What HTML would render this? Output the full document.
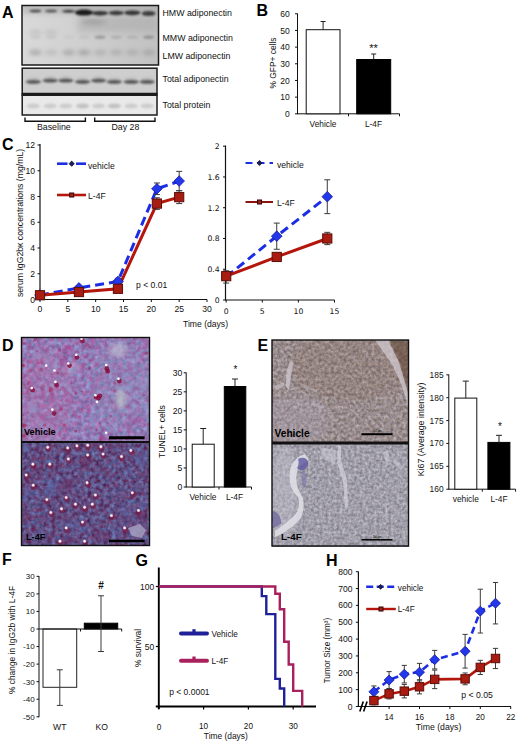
<!DOCTYPE html>
<html><head><meta charset="utf-8"><title>Figure</title>
<style>html,body{margin:0;padding:0;background:#fff}svg{display:block}text{font-family:'Liberation Sans',Arial,sans-serif}</style></head><body>
<svg width="520" height="742" viewBox="0 0 520 742">
<defs>
<filter id="b1" x="-30%" y="-100%" width="160%" height="300%"><feGaussianBlur stdDeviation="1.2"/></filter>
<filter id="b2" x="-30%" y="-100%" width="160%" height="300%"><feGaussianBlur stdDeviation="2"/></filter>
<filter id="b07" x="-30%" y="-100%" width="160%" height="300%"><feGaussianBlur stdDeviation="0.7"/></filter>
<filter id="b3" x="-30%" y="-30%" width="160%" height="160%"><feGaussianBlur stdDeviation="3"/></filter>
<filter id="nD1" x="0" y="0" width="100%" height="100%" color-interpolation-filters="sRGB"><feTurbulence type="fractalNoise" baseFrequency="0.22" numOctaves="3" seed="4"/><feColorMatrix type="matrix" values="0.25 0.3 0 0 0.305  -0.375 0.3 0 0 0.5125  -0.275 0.3 0 0 0.6925  0 0 0 0 1"/></filter>
<filter id="nD2" x="0" y="0" width="100%" height="100%" color-interpolation-filters="sRGB"><feTurbulence type="fractalNoise" baseFrequency="0.25" numOctaves="3" seed="9"/><feColorMatrix type="matrix" values="0.05 0.3 0 0 0.205  -0.45 0.3 0 0 0.385  -0.5 0.3 0 0 0.615  0 0 0 0 1"/></filter>
<filter id="nE1" x="0" y="0" width="100%" height="100%" color-interpolation-filters="sRGB"><feTurbulence type="fractalNoise" baseFrequency="0.32" numOctaves="3" seed="2"/><feColorMatrix type="matrix" values="0 0.42 0 0 0.39  -0.05 0.42 0 0 0.365  -0.14 0.42 0 0 0.415  0 0 0 0 1"/></filter>
<filter id="nE2" x="0" y="0" width="100%" height="100%" color-interpolation-filters="sRGB"><feTurbulence type="fractalNoise" baseFrequency="0.35" numOctaves="3" seed="5"/><feColorMatrix type="matrix" values="0 0.4 0 0 0.43  0 0.4 0 0 0.42  -0.06 0.4 0 0 0.495  0 0 0 0 1"/></filter>
<clipPath id="cD1"><rect x="21.5" y="337.5" width="128" height="105"/></clipPath>
<clipPath id="cD2"><rect x="21.5" y="442" width="128" height="103.5"/></clipPath>
<clipPath id="cE1"><rect x="272" y="340" width="136.5" height="102"/></clipPath>
<clipPath id="cE2"><rect x="272" y="443" width="136.5" height="103.5"/></clipPath>
<clipPath id="cA1"><rect x="22" y="5.5" width="136.5" height="59.5"/></clipPath>
<clipPath id="cA2"><rect x="22.2" y="68.2" width="134.8" height="25.3"/></clipPath>
<clipPath id="cA3"><rect x="22.2" y="95.2" width="134.8" height="19.8"/></clipPath>
</defs>
<rect width="520" height="742" fill="#fff"/>

<text x="2.00" y="17.50" font-size="16" text-anchor="start" font-weight="bold" fill="#000" >A</text>
<linearGradient id="gA1" x1="0" y1="0" x2="1" y2="0"><stop offset="0" stop-color="#d9d9d9"/><stop offset="0.45" stop-color="#cfcfcf"/><stop offset="1" stop-color="#c1c1c1"/></linearGradient>
<rect x="22.00" y="5.50" width="136.50" height="59.50" fill="url(#gA1)" stroke="none" stroke-width="1" />
<g clip-path="url(#cA1)">
<rect x="22.00" y="3.00" width="137.50" height="11.00" fill="#a8a8a8" stroke="none" stroke-width="1" filter="url(#b2)" opacity="0.55"/>
<rect x="78.00" y="16.00" width="80.00" height="16.00" fill="#b0b0b0" stroke="none" stroke-width="1" filter="url(#b3)" opacity="0.7"/>
<ellipse cx="35.4" cy="11" rx="6" ry="1.3" fill="#1e1e1e" opacity="0.75" filter="url(#b1)"/>
<ellipse cx="51.1" cy="11" rx="6" ry="1.3" fill="#1e1e1e" opacity="0.7" filter="url(#b1)"/>
<ellipse cx="68.6" cy="11.3" rx="6.5" ry="1.5" fill="#1e1e1e" opacity="0.8" filter="url(#b1)"/>
<ellipse cx="84" cy="12.6" rx="9.2" ry="3.0" fill="#1e1e1e" opacity="1" filter="url(#b1)"/>
<ellipse cx="100" cy="13.2" rx="8" ry="2.3" fill="#1e1e1e" opacity="0.85" filter="url(#b1)"/>
<ellipse cx="116.3" cy="13" rx="7.8" ry="2.2" fill="#1e1e1e" opacity="0.82" filter="url(#b1)"/>
<ellipse cx="132.3" cy="12.8" rx="8" ry="2.4" fill="#1e1e1e" opacity="0.85" filter="url(#b1)"/>
<ellipse cx="148.6" cy="13.5" rx="7" ry="2.6" fill="#1e1e1e" opacity="0.8" filter="url(#b1)"/>
<ellipse cx="94" cy="22" rx="12" ry="2.5" fill="#666" opacity="0.28" filter="url(#b2)"/>
<ellipse cx="35.4" cy="37.3" rx="5.5" ry="1.7" fill="#444" opacity="0.08" filter="url(#b1)"/>
<ellipse cx="51.1" cy="37.3" rx="5.5" ry="1.7" fill="#444" opacity="0.08" filter="url(#b1)"/>
<ellipse cx="68.6" cy="37.3" rx="5.5" ry="1.7" fill="#444" opacity="0.05" filter="url(#b1)"/>
<ellipse cx="84" cy="37.3" rx="5.5" ry="1.7" fill="#444" opacity="0.08" filter="url(#b1)"/>
<ellipse cx="100" cy="37.3" rx="5.5" ry="1.7" fill="#444" opacity="0.34" filter="url(#b1)"/>
<ellipse cx="116.3" cy="37.3" rx="5.5" ry="1.7" fill="#444" opacity="0.18" filter="url(#b1)"/>
<ellipse cx="132.3" cy="37.3" rx="5.5" ry="1.7" fill="#444" opacity="0.14" filter="url(#b1)"/>
<ellipse cx="148.6" cy="37.3" rx="5.5" ry="1.7" fill="#444" opacity="0.36" filter="url(#b1)"/>
<ellipse cx="35.4" cy="32.5" rx="6.5" ry="2.6" fill="#777" opacity="0.2" filter="url(#b2)"/>
<ellipse cx="51.1" cy="32.5" rx="6.5" ry="2.6" fill="#777" opacity="0.2" filter="url(#b2)"/>
<ellipse cx="35.4" cy="52.5" rx="6.5" ry="2.8" fill="#666" opacity="0.38" filter="url(#b2)"/>
<ellipse cx="51.1" cy="52.5" rx="6.5" ry="2.8" fill="#666" opacity="0.2" filter="url(#b2)"/>
<ellipse cx="68.6" cy="52.5" rx="6.5" ry="2.8" fill="#666" opacity="0.36" filter="url(#b2)"/>
<ellipse cx="84" cy="52.5" rx="6.5" ry="2.8" fill="#666" opacity="0.38" filter="url(#b2)"/>
<ellipse cx="100" cy="52.5" rx="6.5" ry="2.8" fill="#666" opacity="0.25" filter="url(#b2)"/>
<ellipse cx="116.3" cy="52.5" rx="6.5" ry="2.8" fill="#666" opacity="0.25" filter="url(#b2)"/>
<ellipse cx="132.3" cy="52.5" rx="6.5" ry="2.8" fill="#666" opacity="0.25" filter="url(#b2)"/>
<ellipse cx="148.6" cy="52.5" rx="6.5" ry="2.8" fill="#666" opacity="0.28" filter="url(#b2)"/>
</g>
<rect x="22.00" y="5.50" width="136.50" height="59.50" fill="none" stroke="#1a1a1a" stroke-width="1.5" />
<rect x="22.20" y="68.20" width="134.80" height="25.30" fill="#cecece" stroke="none" stroke-width="1" />
<g clip-path="url(#cA2)">
<ellipse cx="33.4" cy="78.8" rx="6" ry="1.5" fill="#999" opacity="0.35" filter="url(#b1)"/>
<ellipse cx="33.4" cy="81.8" rx="7.6" ry="1.9" fill="#363636" opacity="0.8" filter="url(#b1)"/>
<ellipse cx="50.3" cy="77.6" rx="6" ry="1.5" fill="#999" opacity="0.35" filter="url(#b1)"/>
<ellipse cx="50.3" cy="80.6" rx="7.6" ry="1.9" fill="#363636" opacity="0.8" filter="url(#b1)"/>
<ellipse cx="65.8" cy="77.6" rx="6" ry="1.5" fill="#999" opacity="0.35" filter="url(#b1)"/>
<ellipse cx="65.8" cy="80.6" rx="7.6" ry="1.9" fill="#363636" opacity="0.8" filter="url(#b1)"/>
<ellipse cx="82.6" cy="78.8" rx="6" ry="1.5" fill="#999" opacity="0.35" filter="url(#b1)"/>
<ellipse cx="82.6" cy="81.8" rx="7.6" ry="1.9" fill="#363636" opacity="0.8" filter="url(#b1)"/>
<ellipse cx="98.6" cy="77.6" rx="6" ry="1.5" fill="#999" opacity="0.35" filter="url(#b1)"/>
<ellipse cx="98.6" cy="80.6" rx="7.6" ry="1.9" fill="#363636" opacity="0.8" filter="url(#b1)"/>
<ellipse cx="114.3" cy="78.8" rx="6" ry="1.5" fill="#999" opacity="0.35" filter="url(#b1)"/>
<ellipse cx="114.3" cy="81.8" rx="7.6" ry="1.9" fill="#363636" opacity="0.8" filter="url(#b1)"/>
<ellipse cx="131.2" cy="78.8" rx="6" ry="1.5" fill="#999" opacity="0.35" filter="url(#b1)"/>
<ellipse cx="131.2" cy="81.8" rx="7.6" ry="1.9" fill="#363636" opacity="0.8" filter="url(#b1)"/>
<ellipse cx="147.2" cy="78.8" rx="6" ry="1.5" fill="#999" opacity="0.35" filter="url(#b1)"/>
<ellipse cx="147.2" cy="81.8" rx="7.6" ry="1.9" fill="#363636" opacity="0.8" filter="url(#b1)"/>
</g>
<rect x="22.20" y="68.20" width="134.80" height="25.30" fill="none" stroke="#1a1a1a" stroke-width="1.5" />
<rect x="22.20" y="95.20" width="134.80" height="19.80" fill="#e9e9e9" stroke="none" stroke-width="1" />
<g clip-path="url(#cA3)">
<ellipse cx="33.4" cy="106" rx="6.5" ry="2.6" fill="#8a8a8a" opacity="0.3" filter="url(#b1)"/>
<ellipse cx="50.3" cy="106" rx="6.5" ry="2.6" fill="#8a8a8a" opacity="0.3" filter="url(#b1)"/>
<ellipse cx="65.8" cy="106" rx="6.5" ry="2.6" fill="#8a8a8a" opacity="0.3" filter="url(#b1)"/>
<ellipse cx="82.6" cy="106" rx="6.5" ry="2.6" fill="#8a8a8a" opacity="0.42" filter="url(#b1)"/>
<ellipse cx="98.6" cy="106" rx="6.5" ry="2.6" fill="#8a8a8a" opacity="0.3" filter="url(#b1)"/>
<ellipse cx="114.3" cy="106" rx="6.5" ry="2.6" fill="#8a8a8a" opacity="0.42" filter="url(#b1)"/>
<ellipse cx="131.2" cy="106" rx="6.5" ry="2.6" fill="#8a8a8a" opacity="0.3" filter="url(#b1)"/>
<ellipse cx="147.2" cy="106" rx="6.5" ry="2.6" fill="#8a8a8a" opacity="0.3" filter="url(#b1)"/>
</g>
<rect x="22.20" y="95.20" width="134.80" height="19.80" fill="none" stroke="#1a1a1a" stroke-width="1.5" />
<line x1="21.50" y1="94.40" x2="157.70" y2="94.40" stroke="#1a1a1a" stroke-width="2.8" />
<path d="M25,117.5 V121.3 H85.4 V117.5" fill="none" stroke="#111" stroke-width="1.4"/>
<path d="M94.7,117.5 V121.3 H155 V117.5" fill="none" stroke="#111" stroke-width="1.4"/>
<text x="53.80" y="130.00" font-size="8.8" text-anchor="middle"  fill="#111" >Baseline</text>
<text x="125.40" y="130.00" font-size="8.8" text-anchor="middle"  fill="#111" >Day 28</text>
<text x="162.50" y="15.80" font-size="8.8" text-anchor="start"  fill="#111" >HMW adiponectin</text>
<text x="162.50" y="41.00" font-size="8.8" text-anchor="start"  fill="#111" >MMW adiponectin</text>
<text x="162.50" y="58.50" font-size="8.8" text-anchor="start"  fill="#111" >LMW adiponectin</text>
<text x="162.50" y="82.00" font-size="8.8" text-anchor="start"  fill="#111" >Total adiponectin</text>
<text x="162.50" y="108.00" font-size="8.8" text-anchor="start"  fill="#111" >Total protein</text>
<text x="256.50" y="15.50" font-size="16" text-anchor="start" font-weight="bold" fill="#000" >B</text>
<line x1="297.50" y1="13.50" x2="297.50" y2="114.30" stroke="#111" stroke-width="1" />
<line x1="297.50" y1="113.80" x2="399.50" y2="113.80" stroke="#111" stroke-width="1" />
<line x1="295.00" y1="113.80" x2="297.50" y2="113.80" stroke="#111" stroke-width="1" />
<text x="289.80" y="116.90" font-size="8.5" text-anchor="end"  fill="#111" >0</text>
<line x1="295.00" y1="97.13" x2="297.50" y2="97.13" stroke="#111" stroke-width="1" />
<text x="289.80" y="100.23" font-size="8.5" text-anchor="end"  fill="#111" >10</text>
<line x1="295.00" y1="80.46" x2="297.50" y2="80.46" stroke="#111" stroke-width="1" />
<text x="289.80" y="83.56" font-size="8.5" text-anchor="end"  fill="#111" >20</text>
<line x1="295.00" y1="63.79" x2="297.50" y2="63.79" stroke="#111" stroke-width="1" />
<text x="289.80" y="66.89" font-size="8.5" text-anchor="end"  fill="#111" >30</text>
<line x1="295.00" y1="47.12" x2="297.50" y2="47.12" stroke="#111" stroke-width="1" />
<text x="289.80" y="50.22" font-size="8.5" text-anchor="end"  fill="#111" >40</text>
<line x1="295.00" y1="30.45" x2="297.50" y2="30.45" stroke="#111" stroke-width="1" />
<text x="289.80" y="33.55" font-size="8.5" text-anchor="end"  fill="#111" >50</text>
<line x1="295.00" y1="13.78" x2="297.50" y2="13.78" stroke="#111" stroke-width="1" />
<text x="289.80" y="16.88" font-size="8.5" text-anchor="end"  fill="#111" >60</text>
<line x1="348.50" y1="113.80" x2="348.50" y2="116.30" stroke="#111" stroke-width="1" />
<line x1="399.50" y1="113.80" x2="399.50" y2="116.30" stroke="#111" stroke-width="1" />
<rect x="306.20" y="29.70" width="33.80" height="84.10" fill="#fff" stroke="#111" stroke-width="1" />
<line x1="323.10" y1="21.50" x2="323.10" y2="29.70" stroke="#222" stroke-width="1" />
<line x1="320.60" y1="21.50" x2="325.60" y2="21.50" stroke="#222" stroke-width="1" />
<rect x="356.70" y="59.50" width="34.00" height="54.30" fill="#000" stroke="#000" stroke-width="1" />
<line x1="373.70" y1="54.00" x2="373.70" y2="59.50" stroke="#222" stroke-width="1" />
<line x1="371.20" y1="54.00" x2="376.20" y2="54.00" stroke="#222" stroke-width="1" />
<text x="373.50" y="52.00" font-size="11" text-anchor="middle"  fill="#111" >**</text>
<text x="323.00" y="127.00" font-size="8.3" text-anchor="middle"  fill="#111" >Vehicle</text>
<text x="373.50" y="127.00" font-size="8.3" text-anchor="middle"  fill="#111" >L-4F</text>
<text transform="translate(275.50,63.00) rotate(-90)" font-size="8.4" text-anchor="middle" fill="#111">% GFP+ cells</text>
<text x="2.00" y="149.50" font-size="16" text-anchor="start" font-weight="bold" fill="#000" >C</text>
<line x1="40.00" y1="144.00" x2="40.00" y2="300.00" stroke="#111" stroke-width="1.2" />
<line x1="40.00" y1="299.50" x2="207.00" y2="299.50" stroke="#111" stroke-width="1.2" />
<line x1="37.50" y1="299.50" x2="40.00" y2="299.50" stroke="#111" stroke-width="1" />
<text x="35.00" y="302.50" font-size="8.6" text-anchor="end"  fill="#111" >0</text>
<line x1="37.50" y1="273.75" x2="40.00" y2="273.75" stroke="#111" stroke-width="1" />
<text x="35.00" y="276.75" font-size="8.6" text-anchor="end"  fill="#111" >2</text>
<line x1="37.50" y1="248.00" x2="40.00" y2="248.00" stroke="#111" stroke-width="1" />
<text x="35.00" y="251.00" font-size="8.6" text-anchor="end"  fill="#111" >4</text>
<line x1="37.50" y1="222.25" x2="40.00" y2="222.25" stroke="#111" stroke-width="1" />
<text x="35.00" y="225.25" font-size="8.6" text-anchor="end"  fill="#111" >6</text>
<line x1="37.50" y1="196.50" x2="40.00" y2="196.50" stroke="#111" stroke-width="1" />
<text x="35.00" y="199.50" font-size="8.6" text-anchor="end"  fill="#111" >8</text>
<line x1="37.50" y1="170.75" x2="40.00" y2="170.75" stroke="#111" stroke-width="1" />
<text x="35.00" y="173.75" font-size="8.6" text-anchor="end"  fill="#111" >10</text>
<line x1="37.50" y1="145.00" x2="40.00" y2="145.00" stroke="#111" stroke-width="1" />
<text x="35.00" y="148.00" font-size="8.6" text-anchor="end"  fill="#111" >12</text>
<line x1="40.00" y1="299.50" x2="40.00" y2="302.00" stroke="#111" stroke-width="1" />
<text x="40.00" y="312.00" font-size="8.6" text-anchor="middle"  fill="#111" >0</text>
<line x1="67.84" y1="299.50" x2="67.84" y2="302.00" stroke="#111" stroke-width="1" />
<text x="67.84" y="312.00" font-size="8.6" text-anchor="middle"  fill="#111" >5</text>
<line x1="95.67" y1="299.50" x2="95.67" y2="302.00" stroke="#111" stroke-width="1" />
<text x="95.67" y="312.00" font-size="8.6" text-anchor="middle"  fill="#111" >10</text>
<line x1="123.50" y1="299.50" x2="123.50" y2="302.00" stroke="#111" stroke-width="1" />
<text x="123.50" y="312.00" font-size="8.6" text-anchor="middle"  fill="#111" >15</text>
<line x1="151.34" y1="299.50" x2="151.34" y2="302.00" stroke="#111" stroke-width="1" />
<text x="151.34" y="312.00" font-size="8.6" text-anchor="middle"  fill="#111" >20</text>
<line x1="179.18" y1="299.50" x2="179.18" y2="302.00" stroke="#111" stroke-width="1" />
<text x="179.18" y="312.00" font-size="8.6" text-anchor="middle"  fill="#111" >25</text>
<line x1="207.01" y1="299.50" x2="207.01" y2="302.00" stroke="#111" stroke-width="1" />
<text x="207.01" y="312.00" font-size="8.6" text-anchor="middle"  fill="#111" >30</text>
<text transform="translate(23.00,223.00) rotate(-90)" font-size="8.7" text-anchor="middle" fill="#111">serum IgG2bκ concentrations (mg/mL)</text>
<polyline fill="none" stroke="#1c2ee4" stroke-width="3" stroke-dasharray="9,5" points="40.0,295.0 79.0,287.9 117.9,281.5 156.9,188.8 179.2,181.1"/>
<polyline fill="none" stroke="#b4160c" stroke-width="3" points="40.0,295.3 79.0,292.0 117.9,288.8 156.9,203.6 179.2,197.1"/>
<line x1="40.00" y1="293.71" x2="40.00" y2="296.28" stroke="#3a3a3a" stroke-width="1" />
<line x1="37.00" y1="293.71" x2="43.00" y2="293.71" stroke="#3a3a3a" stroke-width="1" />
<line x1="37.00" y1="296.28" x2="43.00" y2="296.28" stroke="#3a3a3a" stroke-width="1" />
<path d="M40.00,289.69 L45.30,294.99 L40.00,300.29 L34.70,294.99Z" fill="#2238ea" stroke="#181890" stroke-width="0.8"/>
<line x1="78.97" y1="285.98" x2="78.97" y2="289.84" stroke="#3a3a3a" stroke-width="1" />
<line x1="75.97" y1="285.98" x2="81.97" y2="285.98" stroke="#3a3a3a" stroke-width="1" />
<line x1="75.97" y1="289.84" x2="81.97" y2="289.84" stroke="#3a3a3a" stroke-width="1" />
<path d="M78.97,282.61 L84.27,287.91 L78.97,293.21 L73.67,287.91Z" fill="#2238ea" stroke="#181890" stroke-width="0.8"/>
<line x1="117.94" y1="278.26" x2="117.94" y2="284.69" stroke="#3a3a3a" stroke-width="1" />
<line x1="114.94" y1="278.26" x2="120.94" y2="278.26" stroke="#3a3a3a" stroke-width="1" />
<line x1="114.94" y1="284.69" x2="120.94" y2="284.69" stroke="#3a3a3a" stroke-width="1" />
<path d="M117.94,276.18 L123.24,281.48 L117.94,286.78 L112.64,281.48Z" fill="#2238ea" stroke="#181890" stroke-width="0.8"/>
<line x1="156.91" y1="182.98" x2="156.91" y2="194.57" stroke="#3a3a3a" stroke-width="1" />
<line x1="153.91" y1="182.98" x2="159.91" y2="182.98" stroke="#3a3a3a" stroke-width="1" />
<line x1="153.91" y1="194.57" x2="159.91" y2="194.57" stroke="#3a3a3a" stroke-width="1" />
<path d="M156.91,183.47 L162.21,188.78 L156.91,194.08 L151.61,188.78Z" fill="#2238ea" stroke="#181890" stroke-width="0.8"/>
<line x1="179.18" y1="171.39" x2="179.18" y2="190.71" stroke="#3a3a3a" stroke-width="1" />
<line x1="176.18" y1="171.39" x2="182.18" y2="171.39" stroke="#3a3a3a" stroke-width="1" />
<line x1="176.18" y1="190.71" x2="182.18" y2="190.71" stroke="#3a3a3a" stroke-width="1" />
<path d="M179.18,175.75 L184.48,181.05 L179.18,186.35 L173.88,181.05Z" fill="#2238ea" stroke="#181890" stroke-width="0.8"/>
<line x1="40.00" y1="293.96" x2="40.00" y2="296.54" stroke="#3a3a3a" stroke-width="1" />
<line x1="37.00" y1="293.96" x2="43.00" y2="293.96" stroke="#3a3a3a" stroke-width="1" />
<line x1="37.00" y1="296.54" x2="43.00" y2="296.54" stroke="#3a3a3a" stroke-width="1" />
<rect x="35.40" y="290.65" width="9.20" height="9.20" fill="#a81c12" stroke="#5a0f0a" stroke-width="1" />
<line x1="78.97" y1="290.75" x2="78.97" y2="293.32" stroke="#3a3a3a" stroke-width="1" />
<line x1="75.97" y1="290.75" x2="81.97" y2="290.75" stroke="#3a3a3a" stroke-width="1" />
<line x1="75.97" y1="293.32" x2="81.97" y2="293.32" stroke="#3a3a3a" stroke-width="1" />
<rect x="74.37" y="287.43" width="9.20" height="9.20" fill="#a81c12" stroke="#5a0f0a" stroke-width="1" />
<line x1="117.94" y1="286.88" x2="117.94" y2="290.75" stroke="#3a3a3a" stroke-width="1" />
<line x1="114.94" y1="286.88" x2="120.94" y2="286.88" stroke="#3a3a3a" stroke-width="1" />
<line x1="114.94" y1="290.75" x2="120.94" y2="290.75" stroke="#3a3a3a" stroke-width="1" />
<rect x="113.34" y="284.21" width="9.20" height="9.20" fill="#a81c12" stroke="#5a0f0a" stroke-width="1" />
<line x1="156.91" y1="197.79" x2="156.91" y2="209.38" stroke="#3a3a3a" stroke-width="1" />
<line x1="153.91" y1="197.79" x2="159.91" y2="197.79" stroke="#3a3a3a" stroke-width="1" />
<line x1="153.91" y1="209.38" x2="159.91" y2="209.38" stroke="#3a3a3a" stroke-width="1" />
<rect x="152.31" y="198.98" width="9.20" height="9.20" fill="#a81c12" stroke="#5a0f0a" stroke-width="1" />
<line x1="179.18" y1="190.71" x2="179.18" y2="203.58" stroke="#3a3a3a" stroke-width="1" />
<line x1="176.18" y1="190.71" x2="182.18" y2="190.71" stroke="#3a3a3a" stroke-width="1" />
<line x1="176.18" y1="203.58" x2="182.18" y2="203.58" stroke="#3a3a3a" stroke-width="1" />
<rect x="174.58" y="192.54" width="9.20" height="9.20" fill="#a81c12" stroke="#5a0f0a" stroke-width="1" />
<line x1="57.00" y1="163.70" x2="67.50" y2="163.70" stroke="#1c2ee4" stroke-width="2.6" />
<line x1="76.00" y1="163.70" x2="86.00" y2="163.70" stroke="#1c2ee4" stroke-width="2.6" />
<path d="M71.70,161.10 L74.30,163.70 L71.70,166.30 L69.10,163.70Z" fill="#1a1a70" stroke="#111" stroke-width="0.8"/>
<text x="88.00" y="168.50" font-size="8.6" text-anchor="start"  fill="#111" >vehicle</text>
<line x1="57.00" y1="195.00" x2="86.00" y2="195.00" stroke="#b4160c" stroke-width="2.6" />
<rect x="69.70" y="193.00" width="4.00" height="4.00" fill="#a3231a" stroke="#300" stroke-width="1" />
<text x="88.00" y="198.70" font-size="8.6" text-anchor="start"  fill="#111" >L-4F</text>
<text x="136.00" y="287.50" font-size="8.6" text-anchor="start"  fill="#111" >p &lt; 0.01</text>
<text x="205.50" y="327.00" font-size="8.6" text-anchor="middle"  fill="#111" >Time (days)</text>
<line x1="225.50" y1="145.50" x2="225.50" y2="300.50" stroke="#111" stroke-width="1.2" />
<line x1="225.50" y1="300.00" x2="334.50" y2="300.00" stroke="#111" stroke-width="1.2" />
<line x1="223.00" y1="300.00" x2="225.50" y2="300.00" stroke="#111" stroke-width="1" />
<text x="219.70" y="302.90" font-size="7.7" text-anchor="end"  fill="#111" style="font-family:'DejaVu Sans',sans-serif">0</text>
<line x1="223.00" y1="269.24" x2="225.50" y2="269.24" stroke="#111" stroke-width="1" />
<text x="219.70" y="272.14" font-size="7.7" text-anchor="end"  fill="#111" style="font-family:'DejaVu Sans',sans-serif">0.4</text>
<line x1="223.00" y1="238.48" x2="225.50" y2="238.48" stroke="#111" stroke-width="1" />
<text x="219.70" y="241.38" font-size="7.7" text-anchor="end"  fill="#111" style="font-family:'DejaVu Sans',sans-serif">0.8</text>
<line x1="223.00" y1="207.72" x2="225.50" y2="207.72" stroke="#111" stroke-width="1" />
<text x="219.70" y="210.62" font-size="7.7" text-anchor="end"  fill="#111" style="font-family:'DejaVu Sans',sans-serif">1.2</text>
<line x1="223.00" y1="176.96" x2="225.50" y2="176.96" stroke="#111" stroke-width="1" />
<text x="219.70" y="179.86" font-size="7.7" text-anchor="end"  fill="#111" style="font-family:'DejaVu Sans',sans-serif">1.6</text>
<line x1="223.00" y1="146.20" x2="225.50" y2="146.20" stroke="#111" stroke-width="1" />
<text x="219.70" y="149.10" font-size="7.7" text-anchor="end"  fill="#111" style="font-family:'DejaVu Sans',sans-serif">2</text>
<line x1="226.20" y1="300.00" x2="226.20" y2="302.50" stroke="#111" stroke-width="1" />
<text x="226.20" y="314.30" font-size="7.7" text-anchor="middle"  fill="#111" style="font-family:'DejaVu Sans',sans-serif">0</text>
<line x1="262.30" y1="300.00" x2="262.30" y2="302.50" stroke="#111" stroke-width="1" />
<text x="262.30" y="314.30" font-size="7.7" text-anchor="middle"  fill="#111" style="font-family:'DejaVu Sans',sans-serif">5</text>
<line x1="298.40" y1="300.00" x2="298.40" y2="302.50" stroke="#111" stroke-width="1" />
<text x="298.40" y="314.30" font-size="7.7" text-anchor="middle"  fill="#111" style="font-family:'DejaVu Sans',sans-serif">10</text>
<line x1="334.50" y1="300.00" x2="334.50" y2="302.50" stroke="#111" stroke-width="1" />
<text x="334.50" y="314.30" font-size="7.7" text-anchor="middle"  fill="#111" style="font-family:'DejaVu Sans',sans-serif">15</text>
<polyline fill="none" stroke="#1c2ee4" stroke-width="3" stroke-dasharray="9,5" points="226.2,276.9 276.7,236.2 327.3,196.7"/>
<polyline fill="none" stroke="#b4160c" stroke-width="3" points="226.2,276.2 276.7,256.9 327.3,238.5"/>
<line x1="226.20" y1="270.78" x2="226.20" y2="283.08" stroke="#3a3a3a" stroke-width="1" />
<line x1="223.20" y1="270.78" x2="229.20" y2="270.78" stroke="#3a3a3a" stroke-width="1" />
<line x1="223.20" y1="283.08" x2="229.20" y2="283.08" stroke="#3a3a3a" stroke-width="1" />
<line x1="276.74" y1="223.10" x2="276.74" y2="249.25" stroke="#3a3a3a" stroke-width="1" />
<line x1="273.74" y1="223.10" x2="279.74" y2="223.10" stroke="#3a3a3a" stroke-width="1" />
<line x1="273.74" y1="249.25" x2="279.74" y2="249.25" stroke="#3a3a3a" stroke-width="1" />
<path d="M276.74,230.87 L282.04,236.17 L276.74,241.47 L271.44,236.17Z" fill="#2238ea" stroke="#181890" stroke-width="0.8"/>
<line x1="327.28" y1="179.81" x2="327.28" y2="213.64" stroke="#3a3a3a" stroke-width="1" />
<line x1="324.28" y1="179.81" x2="330.28" y2="179.81" stroke="#3a3a3a" stroke-width="1" />
<line x1="324.28" y1="213.64" x2="330.28" y2="213.64" stroke="#3a3a3a" stroke-width="1" />
<path d="M327.28,191.42 L332.58,196.72 L327.28,202.02 L321.98,196.72Z" fill="#2238ea" stroke="#181890" stroke-width="0.8"/>
<line x1="226.20" y1="272.32" x2="226.20" y2="280.01" stroke="#3a3a3a" stroke-width="1" />
<line x1="223.20" y1="272.32" x2="229.20" y2="272.32" stroke="#3a3a3a" stroke-width="1" />
<line x1="223.20" y1="280.01" x2="229.20" y2="280.01" stroke="#3a3a3a" stroke-width="1" />
<rect x="221.60" y="271.56" width="9.20" height="9.20" fill="#a81c12" stroke="#5a0f0a" stroke-width="1" />
<line x1="276.74" y1="253.09" x2="276.74" y2="260.78" stroke="#3a3a3a" stroke-width="1" />
<line x1="273.74" y1="253.09" x2="279.74" y2="253.09" stroke="#3a3a3a" stroke-width="1" />
<line x1="273.74" y1="260.78" x2="279.74" y2="260.78" stroke="#3a3a3a" stroke-width="1" />
<rect x="272.14" y="252.34" width="9.20" height="9.20" fill="#a81c12" stroke="#5a0f0a" stroke-width="1" />
<line x1="327.28" y1="232.33" x2="327.28" y2="244.63" stroke="#3a3a3a" stroke-width="1" />
<line x1="324.28" y1="232.33" x2="330.28" y2="232.33" stroke="#3a3a3a" stroke-width="1" />
<line x1="324.28" y1="244.63" x2="330.28" y2="244.63" stroke="#3a3a3a" stroke-width="1" />
<rect x="322.68" y="233.88" width="9.20" height="9.20" fill="#a81c12" stroke="#5a0f0a" stroke-width="1" />
<line x1="245.50" y1="163.00" x2="273.00" y2="163.00" stroke="#1c2ee4" stroke-width="1.8" stroke-dasharray="7,5"/>
<path d="M259.50,160.40 L262.10,163.00 L259.50,165.60 L256.90,163.00Z" fill="#1a1a70" stroke="#111" stroke-width="0.8"/>
<text x="277.00" y="167.50" font-size="8.6" text-anchor="start"  fill="#111" >vehicle</text>
<line x1="245.50" y1="202.00" x2="273.00" y2="202.00" stroke="#8a1410" stroke-width="2" />
<rect x="257.50" y="200.00" width="4.00" height="4.00" fill="#a3231a" stroke="#300" stroke-width="1" />
<text x="277.00" y="206.00" font-size="8.6" text-anchor="start"  fill="#111" >L-4F</text>
<text x="2.00" y="350.50" font-size="16" text-anchor="start" font-weight="bold" fill="#000" >D</text>
<rect x="21.50" y="337.50" width="128.00" height="105.00" fill="#a58fbd" stroke="none" stroke-width="1" filter="url(#nD1)"/>
<g clip-path="url(#cD1)">
<circle cx="63.0" cy="353.3" r="4.3" fill="#a04090" opacity="0.14" filter="url(#b1)"/>
<circle cx="90.1" cy="375.9" r="2.2" fill="#a04090" opacity="0.23" filter="url(#b1)"/>
<circle cx="26.3" cy="383.0" r="2.2" fill="#a04090" opacity="0.14" filter="url(#b1)"/>
<circle cx="75.8" cy="424.3" r="2.4" fill="#a04090" opacity="0.17" filter="url(#b1)"/>
<circle cx="101.8" cy="437.0" r="4.0" fill="#a04090" opacity="0.21" filter="url(#b1)"/>
<circle cx="146.5" cy="342.4" r="5.0" fill="#a04090" opacity="0.18" filter="url(#b1)"/>
<circle cx="40.0" cy="349.9" r="3.1" fill="#a04090" opacity="0.30" filter="url(#b1)"/>
<circle cx="44.6" cy="398.6" r="4.2" fill="#a04090" opacity="0.20" filter="url(#b1)"/>
<circle cx="91.6" cy="344.1" r="2.2" fill="#a04090" opacity="0.17" filter="url(#b1)"/>
<circle cx="108.6" cy="382.4" r="3.1" fill="#a04090" opacity="0.25" filter="url(#b1)"/>
<circle cx="79.5" cy="369.0" r="4.8" fill="#a04090" opacity="0.27" filter="url(#b1)"/>
<circle cx="52.7" cy="397.8" r="3.8" fill="#a04090" opacity="0.31" filter="url(#b1)"/>
<circle cx="114.9" cy="367.7" r="5.4" fill="#a04090" opacity="0.15" filter="url(#b1)"/>
<circle cx="75.0" cy="417.0" r="2.5" fill="#a04090" opacity="0.23" filter="url(#b1)"/>
<circle cx="26.5" cy="407.7" r="4.7" fill="#a04090" opacity="0.25" filter="url(#b1)"/>
<circle cx="133.6" cy="370.4" r="4.4" fill="#a04090" opacity="0.25" filter="url(#b1)"/>
<circle cx="95.7" cy="385.4" r="4.9" fill="#a04090" opacity="0.33" filter="url(#b1)"/>
<circle cx="82.2" cy="407.2" r="2.2" fill="#a04090" opacity="0.27" filter="url(#b1)"/>
<circle cx="104.3" cy="441.8" r="4.9" fill="#a04090" opacity="0.18" filter="url(#b1)"/>
<circle cx="70.9" cy="407.7" r="2.1" fill="#a04090" opacity="0.22" filter="url(#b1)"/>
<circle cx="43.0" cy="349.8" r="2.2" fill="#a04090" opacity="0.29" filter="url(#b1)"/>
<circle cx="38.1" cy="363.5" r="3.4" fill="#a04090" opacity="0.31" filter="url(#b1)"/>
<circle cx="31.8" cy="384.7" r="3.9" fill="#a04090" opacity="0.31" filter="url(#b1)"/>
<circle cx="126.4" cy="428.2" r="3.0" fill="#a04090" opacity="0.21" filter="url(#b1)"/>
<circle cx="67.4" cy="430.3" r="5.4" fill="#a04090" opacity="0.15" filter="url(#b1)"/>
<circle cx="44.1" cy="361.9" r="2.8" fill="#a04090" opacity="0.23" filter="url(#b1)"/>
<circle cx="96.9" cy="365.1" r="2.0" fill="#a04090" opacity="0.21" filter="url(#b1)"/>
<circle cx="68.8" cy="397.0" r="5.3" fill="#a04090" opacity="0.27" filter="url(#b1)"/>
<circle cx="87.5" cy="402.3" r="4.4" fill="#a04090" opacity="0.13" filter="url(#b1)"/>
<circle cx="136.6" cy="419.4" r="5.1" fill="#a04090" opacity="0.30" filter="url(#b1)"/>
<circle cx="71.7" cy="379.4" r="2.4" fill="#a04090" opacity="0.26" filter="url(#b1)"/>
<circle cx="29.5" cy="344.6" r="2.7" fill="#a04090" opacity="0.16" filter="url(#b1)"/>
<circle cx="65.0" cy="343.0" r="2.0" fill="#a04090" opacity="0.15" filter="url(#b1)"/>
<circle cx="34.5" cy="375.7" r="2.1" fill="#a04090" opacity="0.31" filter="url(#b1)"/>
<circle cx="100.1" cy="353.1" r="2.9" fill="#a04090" opacity="0.20" filter="url(#b1)"/>
<circle cx="68.1" cy="350.4" r="5.0" fill="#a04090" opacity="0.34" filter="url(#b1)"/>
<circle cx="81.1" cy="388.3" r="2.3" fill="#a04090" opacity="0.14" filter="url(#b1)"/>
<circle cx="65.4" cy="365.3" r="4.9" fill="#a04090" opacity="0.16" filter="url(#b1)"/>
<circle cx="24.5" cy="437.4" r="3.8" fill="#a04090" opacity="0.15" filter="url(#b1)"/>
<circle cx="91.0" cy="340.3" r="3.8" fill="#a04090" opacity="0.34" filter="url(#b1)"/>
<circle cx="132.0" cy="410.6" r="2.9" fill="#a04090" opacity="0.20" filter="url(#b1)"/>
<circle cx="42.9" cy="418.6" r="3.9" fill="#a04090" opacity="0.29" filter="url(#b1)"/>
<circle cx="63.7" cy="360.9" r="4.8" fill="#a04090" opacity="0.34" filter="url(#b1)"/>
<circle cx="130.6" cy="422.1" r="4.9" fill="#a04090" opacity="0.28" filter="url(#b1)"/>
<circle cx="50.5" cy="391.9" r="3.2" fill="#a04090" opacity="0.13" filter="url(#b1)"/>
<circle cx="25.1" cy="366.8" r="3.0" fill="#8f9fd0" opacity="0.32" filter="url(#b1)"/>
<circle cx="143.9" cy="384.5" r="5.7" fill="#8f9fd0" opacity="0.40" filter="url(#b1)"/>
<circle cx="143.7" cy="375.8" r="2.9" fill="#8f9fd0" opacity="0.21" filter="url(#b1)"/>
<circle cx="46.7" cy="359.0" r="4.5" fill="#8f9fd0" opacity="0.38" filter="url(#b1)"/>
<circle cx="129.1" cy="387.8" r="4.6" fill="#8f9fd0" opacity="0.35" filter="url(#b1)"/>
<circle cx="32.4" cy="406.9" r="5.6" fill="#8f9fd0" opacity="0.35" filter="url(#b1)"/>
<circle cx="117.5" cy="387.7" r="2.7" fill="#8f9fd0" opacity="0.35" filter="url(#b1)"/>
<circle cx="64.1" cy="421.6" r="5.9" fill="#8f9fd0" opacity="0.25" filter="url(#b1)"/>
<circle cx="72.9" cy="436.9" r="4.9" fill="#8f9fd0" opacity="0.19" filter="url(#b1)"/>
<circle cx="37.8" cy="353.4" r="5.6" fill="#8f9fd0" opacity="0.35" filter="url(#b1)"/>
<circle cx="40.2" cy="424.3" r="5.9" fill="#8f9fd0" opacity="0.31" filter="url(#b1)"/>
<circle cx="66.4" cy="395.1" r="2.5" fill="#8f9fd0" opacity="0.15" filter="url(#b1)"/>
<circle cx="145.8" cy="405.7" r="4.1" fill="#8f9fd0" opacity="0.38" filter="url(#b1)"/>
<circle cx="77.0" cy="429.0" r="5.3" fill="#8f9fd0" opacity="0.20" filter="url(#b1)"/>
<circle cx="53.7" cy="368.3" r="3.0" fill="#8f9fd0" opacity="0.30" filter="url(#b1)"/>
<circle cx="54.7" cy="381.5" r="2.5" fill="#8f9fd0" opacity="0.38" filter="url(#b1)"/>
<circle cx="66.8" cy="385.6" r="4.3" fill="#8f9fd0" opacity="0.38" filter="url(#b1)"/>
<circle cx="75.3" cy="433.9" r="4.0" fill="#8f9fd0" opacity="0.28" filter="url(#b1)"/>
<circle cx="88.5" cy="339.5" r="3.8" fill="#8f9fd0" opacity="0.20" filter="url(#b1)"/>
<circle cx="22.0" cy="421.4" r="2.7" fill="#8f9fd0" opacity="0.27" filter="url(#b1)"/>
<circle cx="114.3" cy="395.9" r="3.3" fill="#8f9fd0" opacity="0.28" filter="url(#b1)"/>
<circle cx="92.6" cy="419.8" r="2.4" fill="#8f9fd0" opacity="0.29" filter="url(#b1)"/>
<circle cx="53.3" cy="366.6" r="5.1" fill="#8f9fd0" opacity="0.28" filter="url(#b1)"/>
<circle cx="93.4" cy="417.3" r="5.6" fill="#8f9fd0" opacity="0.26" filter="url(#b1)"/>
<circle cx="99.9" cy="390.6" r="4.0" fill="#8f9fd0" opacity="0.32" filter="url(#b1)"/>
<circle cx="79.4" cy="393.5" r="3.9" fill="#8f9fd0" opacity="0.39" filter="url(#b1)"/>
<circle cx="111.0" cy="429.5" r="5.8" fill="#8f9fd0" opacity="0.21" filter="url(#b1)"/>
<circle cx="93.1" cy="436.5" r="5.4" fill="#8f9fd0" opacity="0.18" filter="url(#b1)"/>
<circle cx="37.1" cy="383.9" r="2.3" fill="#8f9fd0" opacity="0.21" filter="url(#b1)"/>
<circle cx="30.9" cy="407.8" r="5.1" fill="#8f9fd0" opacity="0.37" filter="url(#b1)"/>
<circle cx="27.9" cy="412.7" r="1.6" fill="#a02058" opacity="0.40" filter="url(#b07)"/>
<circle cx="126.4" cy="439.1" r="1.1" fill="#a02058" opacity="0.68" filter="url(#b07)"/>
<circle cx="50.8" cy="388.7" r="2.0" fill="#a02058" opacity="0.64" filter="url(#b07)"/>
<circle cx="28.4" cy="382.8" r="1.4" fill="#a02058" opacity="0.47" filter="url(#b07)"/>
<circle cx="30.9" cy="370.9" r="1.7" fill="#a02058" opacity="0.36" filter="url(#b07)"/>
<circle cx="71.3" cy="383.7" r="0.8" fill="#a02058" opacity="0.47" filter="url(#b07)"/>
<circle cx="81.7" cy="391.3" r="0.9" fill="#a02058" opacity="0.69" filter="url(#b07)"/>
<circle cx="109.0" cy="439.5" r="0.9" fill="#a02058" opacity="0.44" filter="url(#b07)"/>
<circle cx="22.2" cy="419.3" r="1.1" fill="#a02058" opacity="0.40" filter="url(#b07)"/>
<circle cx="53.7" cy="433.2" r="1.8" fill="#a02058" opacity="0.44" filter="url(#b07)"/>
<circle cx="27.6" cy="434.0" r="1.5" fill="#a02058" opacity="0.60" filter="url(#b07)"/>
<circle cx="24.2" cy="343.5" r="1.6" fill="#a02058" opacity="0.50" filter="url(#b07)"/>
<circle cx="23.4" cy="436.0" r="1.6" fill="#a02058" opacity="0.63" filter="url(#b07)"/>
<circle cx="23.9" cy="427.4" r="0.9" fill="#a02058" opacity="0.65" filter="url(#b07)"/>
<circle cx="57.7" cy="373.1" r="1.5" fill="#a02058" opacity="0.67" filter="url(#b07)"/>
<circle cx="37.1" cy="351.1" r="1.4" fill="#a02058" opacity="0.43" filter="url(#b07)"/>
<circle cx="25.2" cy="354.5" r="0.9" fill="#a02058" opacity="0.42" filter="url(#b07)"/>
<circle cx="41.4" cy="369.5" r="1.7" fill="#a02058" opacity="0.45" filter="url(#b07)"/>
<circle cx="63.7" cy="356.2" r="1.2" fill="#a02058" opacity="0.36" filter="url(#b07)"/>
<circle cx="35.5" cy="339.1" r="1.7" fill="#a02058" opacity="0.54" filter="url(#b07)"/>
<circle cx="30.4" cy="387.3" r="1.9" fill="#a02058" opacity="0.39" filter="url(#b07)"/>
<circle cx="114.5" cy="382.9" r="1.4" fill="#a02058" opacity="0.64" filter="url(#b07)"/>
<circle cx="50.2" cy="390.7" r="1.6" fill="#a02058" opacity="0.69" filter="url(#b07)"/>
<circle cx="44.6" cy="424.9" r="1.6" fill="#a02058" opacity="0.57" filter="url(#b07)"/>
<circle cx="51.6" cy="374.0" r="0.9" fill="#a02058" opacity="0.40" filter="url(#b07)"/>
<circle cx="23.3" cy="415.3" r="1.1" fill="#a02058" opacity="0.41" filter="url(#b07)"/>
<circle cx="24.0" cy="425.8" r="1.8" fill="#a02058" opacity="0.58" filter="url(#b07)"/>
<circle cx="38.4" cy="362.9" r="1.2" fill="#a02058" opacity="0.51" filter="url(#b07)"/>
<circle cx="28.2" cy="384.3" r="1.1" fill="#a02058" opacity="0.69" filter="url(#b07)"/>
<circle cx="143.9" cy="394.9" r="1.1" fill="#a02058" opacity="0.69" filter="url(#b07)"/>
<circle cx="41.1" cy="374.9" r="0.8" fill="#a02058" opacity="0.48" filter="url(#b07)"/>
<circle cx="60.4" cy="390.3" r="1.0" fill="#a02058" opacity="0.53" filter="url(#b07)"/>
<circle cx="21.5" cy="365.2" r="0.9" fill="#a02058" opacity="0.49" filter="url(#b07)"/>
<circle cx="22.3" cy="339.9" r="1.2" fill="#a02058" opacity="0.43" filter="url(#b07)"/>
<circle cx="75.9" cy="393.1" r="1.7" fill="#a02058" opacity="0.58" filter="url(#b07)"/>
<circle cx="96.5" cy="429.8" r="1.3" fill="#a02058" opacity="0.46" filter="url(#b07)"/>
<circle cx="146.4" cy="353.2" r="1.7" fill="#a02058" opacity="0.58" filter="url(#b07)"/>
<circle cx="22.4" cy="425.2" r="1.9" fill="#a02058" opacity="0.57" filter="url(#b07)"/>
<circle cx="99.5" cy="422.8" r="1.0" fill="#a02058" opacity="0.53" filter="url(#b07)"/>
<circle cx="64.3" cy="425.2" r="1.8" fill="#a02058" opacity="0.64" filter="url(#b07)"/>
<circle cx="75.6" cy="431.2" r="1.6" fill="#a02058" opacity="0.59" filter="url(#b07)"/>
<circle cx="33.7" cy="340.8" r="1.0" fill="#a02058" opacity="0.48" filter="url(#b07)"/>
<circle cx="25.0" cy="425.3" r="1.5" fill="#a02058" opacity="0.57" filter="url(#b07)"/>
<circle cx="82.0" cy="409.0" r="1.4" fill="#a02058" opacity="0.35" filter="url(#b07)"/>
<circle cx="110.7" cy="416.1" r="1.4" fill="#a02058" opacity="0.54" filter="url(#b07)"/>
<circle cx="87.2" cy="344.4" r="1.7" fill="#a02058" opacity="0.44" filter="url(#b07)"/>
<circle cx="23.5" cy="365.4" r="1.7" fill="#a02058" opacity="0.42" filter="url(#b07)"/>
<circle cx="100.5" cy="440.0" r="1.4" fill="#a02058" opacity="0.48" filter="url(#b07)"/>
<circle cx="60.9" cy="409.3" r="1.7" fill="#a02058" opacity="0.57" filter="url(#b07)"/>
<circle cx="84.6" cy="345.6" r="1.0" fill="#a02058" opacity="0.44" filter="url(#b07)"/>
<circle cx="101.1" cy="369.5" r="1.5" fill="#a02058" opacity="0.35" filter="url(#b07)"/>
<circle cx="22.9" cy="365.7" r="1.6" fill="#a02058" opacity="0.59" filter="url(#b07)"/>
<circle cx="89.9" cy="368.0" r="1.4" fill="#a02058" opacity="0.51" filter="url(#b07)"/>
<circle cx="59.3" cy="349.9" r="1.9" fill="#a02058" opacity="0.42" filter="url(#b07)"/>
<circle cx="145.0" cy="435.8" r="0.8" fill="#a02058" opacity="0.51" filter="url(#b07)"/>
<circle cx="114.7" cy="439.2" r="1.3" fill="#a02058" opacity="0.44" filter="url(#b07)"/>
<circle cx="32.0" cy="436.8" r="1.1" fill="#a02058" opacity="0.55" filter="url(#b07)"/>
<circle cx="27.1" cy="392.5" r="1.9" fill="#a02058" opacity="0.40" filter="url(#b07)"/>
<circle cx="114.7" cy="390.9" r="1.9" fill="#a02058" opacity="0.60" filter="url(#b07)"/>
<circle cx="33.8" cy="431.8" r="1.4" fill="#a02058" opacity="0.36" filter="url(#b07)"/>
<ellipse cx="45" cy="400" rx="28" ry="50" fill="#c070a0" opacity="0.22" filter="url(#b3)"/>
<ellipse cx="120" cy="385" rx="30" ry="45" fill="#9098c0" opacity="0.25" filter="url(#b3)"/>
<ellipse cx="118" cy="350" rx="9" ry="7" fill="#c4c0d4" opacity="0.6" filter="url(#b2)"/>
<ellipse cx="121" cy="399" rx="5" ry="10" fill="#c0c4c8" opacity="0.7" filter="url(#b2)"/>
<ellipse cx="72" cy="368" rx="8" ry="6" fill="#b8b8d8" opacity="0.45" filter="url(#b2)"/>
<circle cx="82.5" cy="341.0" r="2.4" fill="#8a1040" opacity="0.85" filter="url(#b07)"/>
<circle cx="76.9" cy="357.3" r="2.4" fill="#8a1040" opacity="0.85" filter="url(#b07)"/>
<circle cx="106.8" cy="368.7" r="2.4" fill="#8a1040" opacity="0.85" filter="url(#b07)"/>
<circle cx="107.7" cy="371.2" r="2.4" fill="#8a1040" opacity="0.85" filter="url(#b07)"/>
<circle cx="56.6" cy="385.0" r="2.4" fill="#8a1040" opacity="0.85" filter="url(#b07)"/>
<circle cx="98.5" cy="398.2" r="2.4" fill="#8a1040" opacity="0.85" filter="url(#b07)"/>
<circle cx="96.0" cy="397.0" r="2.4" fill="#8a1040" opacity="0.85" filter="url(#b07)"/>
<circle cx="100.0" cy="395.8" r="2.4" fill="#8a1040" opacity="0.85" filter="url(#b07)"/>
<circle cx="54.2" cy="413.6" r="2.4" fill="#8a1040" opacity="0.85" filter="url(#b07)"/>
<circle cx="119.4" cy="381.0" r="2.4" fill="#8a1040" opacity="0.85" filter="url(#b07)"/>
<circle cx="69.5" cy="365.6" r="2.4" fill="#8a1040" opacity="0.85" filter="url(#b07)"/>
<circle cx="32.6" cy="390.2" r="2.4" fill="#8a1040" opacity="0.85" filter="url(#b07)"/>
<circle cx="81.5" cy="338.8" r="1.3" fill="#fff"/>
<circle cx="76.3" cy="354.8" r="1.3" fill="#fff"/>
<circle cx="68.3" cy="363.5" r="1.3" fill="#fff"/>
<circle cx="46.2" cy="365.6" r="1.3" fill="#fff"/>
<circle cx="106.2" cy="365.0" r="1.3" fill="#fff"/>
<circle cx="54.5" cy="370.5" r="1.3" fill="#fff"/>
<circle cx="55.4" cy="381.9" r="1.3" fill="#fff"/>
<circle cx="118.5" cy="378.8" r="1.3" fill="#fff"/>
<circle cx="31.7" cy="388.1" r="1.3" fill="#fff"/>
<circle cx="95.4" cy="395.2" r="1.3" fill="#fff"/>
<circle cx="96.9" cy="401.9" r="1.3" fill="#fff"/>
<circle cx="52.3" cy="409.6" r="1.3" fill="#fff"/>
<circle cx="106.2" cy="432.7" r="1.3" fill="#fff"/>
</g>
<rect x="21.50" y="442.00" width="128.00" height="103.50" fill="#6c5f96" stroke="none" stroke-width="1" filter="url(#nD2)"/>
<g clip-path="url(#cD2)">
<circle cx="22.0" cy="492.6" r="3.6" fill="#6c2858" opacity="0.23" filter="url(#b1)"/>
<circle cx="39.5" cy="477.4" r="3.1" fill="#6c2858" opacity="0.36" filter="url(#b1)"/>
<circle cx="21.7" cy="519.3" r="4.9" fill="#6c2858" opacity="0.18" filter="url(#b1)"/>
<circle cx="140.1" cy="515.4" r="5.2" fill="#6c2858" opacity="0.22" filter="url(#b1)"/>
<circle cx="69.1" cy="482.5" r="5.5" fill="#6c2858" opacity="0.30" filter="url(#b1)"/>
<circle cx="67.7" cy="486.1" r="3.0" fill="#6c2858" opacity="0.16" filter="url(#b1)"/>
<circle cx="34.5" cy="528.0" r="3.0" fill="#6c2858" opacity="0.38" filter="url(#b1)"/>
<circle cx="53.4" cy="469.4" r="3.8" fill="#6c2858" opacity="0.20" filter="url(#b1)"/>
<circle cx="69.3" cy="540.5" r="5.1" fill="#6c2858" opacity="0.35" filter="url(#b1)"/>
<circle cx="102.3" cy="536.1" r="5.3" fill="#6c2858" opacity="0.29" filter="url(#b1)"/>
<circle cx="113.6" cy="447.1" r="4.6" fill="#6c2858" opacity="0.26" filter="url(#b1)"/>
<circle cx="117.8" cy="508.4" r="3.0" fill="#6c2858" opacity="0.16" filter="url(#b1)"/>
<circle cx="140.1" cy="455.1" r="3.7" fill="#6c2858" opacity="0.24" filter="url(#b1)"/>
<circle cx="59.6" cy="518.1" r="5.4" fill="#6c2858" opacity="0.22" filter="url(#b1)"/>
<circle cx="105.5" cy="473.0" r="4.0" fill="#6c2858" opacity="0.25" filter="url(#b1)"/>
<circle cx="42.9" cy="458.7" r="2.7" fill="#6c2858" opacity="0.38" filter="url(#b1)"/>
<circle cx="85.1" cy="464.7" r="5.2" fill="#6c2858" opacity="0.40" filter="url(#b1)"/>
<circle cx="79.1" cy="456.4" r="2.7" fill="#6c2858" opacity="0.17" filter="url(#b1)"/>
<circle cx="65.3" cy="451.4" r="2.8" fill="#6c2858" opacity="0.21" filter="url(#b1)"/>
<circle cx="94.4" cy="533.4" r="4.6" fill="#6c2858" opacity="0.25" filter="url(#b1)"/>
<circle cx="74.5" cy="496.0" r="3.3" fill="#6c2858" opacity="0.23" filter="url(#b1)"/>
<circle cx="29.4" cy="470.6" r="5.4" fill="#6c2858" opacity="0.18" filter="url(#b1)"/>
<circle cx="85.9" cy="506.9" r="5.0" fill="#6c2858" opacity="0.20" filter="url(#b1)"/>
<circle cx="56.2" cy="467.6" r="3.4" fill="#6c2858" opacity="0.26" filter="url(#b1)"/>
<circle cx="143.6" cy="529.4" r="5.1" fill="#6c2858" opacity="0.16" filter="url(#b1)"/>
<circle cx="25.6" cy="515.1" r="5.1" fill="#6c2858" opacity="0.27" filter="url(#b1)"/>
<circle cx="96.7" cy="442.0" r="3.4" fill="#6c2858" opacity="0.38" filter="url(#b1)"/>
<circle cx="127.2" cy="530.1" r="5.4" fill="#6c2858" opacity="0.21" filter="url(#b1)"/>
<circle cx="35.5" cy="457.9" r="3.8" fill="#6c2858" opacity="0.32" filter="url(#b1)"/>
<circle cx="142.0" cy="516.3" r="4.3" fill="#6c2858" opacity="0.34" filter="url(#b1)"/>
<circle cx="80.0" cy="498.8" r="2.1" fill="#6c2858" opacity="0.35" filter="url(#b1)"/>
<circle cx="51.3" cy="536.8" r="4.3" fill="#6c2858" opacity="0.23" filter="url(#b1)"/>
<circle cx="37.9" cy="467.9" r="4.2" fill="#6c2858" opacity="0.32" filter="url(#b1)"/>
<circle cx="35.9" cy="449.2" r="3.8" fill="#6c2858" opacity="0.30" filter="url(#b1)"/>
<circle cx="71.2" cy="465.0" r="4.1" fill="#6c2858" opacity="0.15" filter="url(#b1)"/>
<circle cx="60.1" cy="489.5" r="5.4" fill="#6c2858" opacity="0.31" filter="url(#b1)"/>
<circle cx="134.6" cy="491.0" r="2.8" fill="#6c2858" opacity="0.21" filter="url(#b1)"/>
<circle cx="144.5" cy="514.6" r="3.1" fill="#6c2858" opacity="0.16" filter="url(#b1)"/>
<circle cx="85.3" cy="511.5" r="3.5" fill="#6c2858" opacity="0.21" filter="url(#b1)"/>
<circle cx="106.9" cy="537.3" r="2.8" fill="#6c2858" opacity="0.16" filter="url(#b1)"/>
<circle cx="64.8" cy="485.3" r="4.4" fill="#6c2858" opacity="0.20" filter="url(#b1)"/>
<circle cx="123.5" cy="518.1" r="3.8" fill="#6c2858" opacity="0.20" filter="url(#b1)"/>
<circle cx="145.6" cy="474.1" r="4.9" fill="#6c2858" opacity="0.21" filter="url(#b1)"/>
<circle cx="49.8" cy="520.3" r="3.0" fill="#6c2858" opacity="0.39" filter="url(#b1)"/>
<circle cx="85.0" cy="461.3" r="2.8" fill="#6c2858" opacity="0.25" filter="url(#b1)"/>
<circle cx="106.7" cy="539.7" r="2.5" fill="#6c2858" opacity="0.25" filter="url(#b1)"/>
<circle cx="48.8" cy="542.3" r="2.5" fill="#6c2858" opacity="0.16" filter="url(#b1)"/>
<circle cx="29.2" cy="482.5" r="5.1" fill="#6c2858" opacity="0.37" filter="url(#b1)"/>
<circle cx="115.3" cy="544.7" r="5.3" fill="#6c2858" opacity="0.23" filter="url(#b1)"/>
<circle cx="45.2" cy="538.4" r="4.6" fill="#6c2858" opacity="0.16" filter="url(#b1)"/>
<circle cx="106.5" cy="481.0" r="3.5" fill="#5a68a8" opacity="0.30" filter="url(#b1)"/>
<circle cx="43.2" cy="442.3" r="3.1" fill="#5a68a8" opacity="0.31" filter="url(#b1)"/>
<circle cx="143.8" cy="454.7" r="5.9" fill="#5a68a8" opacity="0.26" filter="url(#b1)"/>
<circle cx="67.1" cy="526.6" r="5.3" fill="#5a68a8" opacity="0.33" filter="url(#b1)"/>
<circle cx="27.8" cy="490.8" r="3.5" fill="#5a68a8" opacity="0.48" filter="url(#b1)"/>
<circle cx="46.2" cy="479.5" r="5.6" fill="#5a68a8" opacity="0.21" filter="url(#b1)"/>
<circle cx="74.1" cy="525.6" r="5.1" fill="#5a68a8" opacity="0.21" filter="url(#b1)"/>
<circle cx="26.0" cy="448.4" r="5.7" fill="#5a68a8" opacity="0.28" filter="url(#b1)"/>
<circle cx="117.2" cy="534.6" r="3.4" fill="#5a68a8" opacity="0.28" filter="url(#b1)"/>
<circle cx="144.1" cy="505.5" r="3.0" fill="#5a68a8" opacity="0.41" filter="url(#b1)"/>
<circle cx="62.0" cy="470.4" r="2.0" fill="#5a68a8" opacity="0.43" filter="url(#b1)"/>
<circle cx="138.8" cy="507.3" r="5.8" fill="#5a68a8" opacity="0.21" filter="url(#b1)"/>
<circle cx="51.4" cy="490.9" r="5.8" fill="#5a68a8" opacity="0.49" filter="url(#b1)"/>
<circle cx="71.0" cy="467.9" r="3.7" fill="#5a68a8" opacity="0.35" filter="url(#b1)"/>
<circle cx="140.3" cy="460.8" r="5.2" fill="#5a68a8" opacity="0.42" filter="url(#b1)"/>
<circle cx="126.8" cy="521.6" r="4.4" fill="#5a68a8" opacity="0.30" filter="url(#b1)"/>
<circle cx="62.4" cy="479.3" r="5.1" fill="#5a68a8" opacity="0.22" filter="url(#b1)"/>
<circle cx="46.8" cy="519.5" r="3.0" fill="#5a68a8" opacity="0.22" filter="url(#b1)"/>
<circle cx="25.8" cy="498.9" r="3.3" fill="#5a68a8" opacity="0.49" filter="url(#b1)"/>
<circle cx="134.6" cy="543.7" r="3.1" fill="#5a68a8" opacity="0.23" filter="url(#b1)"/>
<circle cx="33.8" cy="493.3" r="4.8" fill="#5a68a8" opacity="0.33" filter="url(#b1)"/>
<circle cx="51.5" cy="484.9" r="4.5" fill="#5a68a8" opacity="0.40" filter="url(#b1)"/>
<circle cx="117.2" cy="529.2" r="4.7" fill="#5a68a8" opacity="0.24" filter="url(#b1)"/>
<circle cx="129.1" cy="472.3" r="4.3" fill="#5a68a8" opacity="0.31" filter="url(#b1)"/>
<circle cx="116.0" cy="462.5" r="3.0" fill="#5a68a8" opacity="0.27" filter="url(#b1)"/>
<circle cx="41.1" cy="533.1" r="4.3" fill="#5a68a8" opacity="0.30" filter="url(#b1)"/>
<circle cx="72.2" cy="544.2" r="4.0" fill="#5a68a8" opacity="0.27" filter="url(#b1)"/>
<circle cx="125.0" cy="509.3" r="6.0" fill="#5a68a8" opacity="0.23" filter="url(#b1)"/>
<circle cx="82.3" cy="526.4" r="5.4" fill="#5a68a8" opacity="0.47" filter="url(#b1)"/>
<circle cx="26.7" cy="472.2" r="2.5" fill="#5a68a8" opacity="0.26" filter="url(#b1)"/>
<path d="M128,528 L140,524 L146,530 L142,538 L132,536Z" fill="#a8a4c4" opacity="0.8" filter="url(#b07)"/>
<circle cx="48.2" cy="449.1" r="3" fill="#781840" opacity="0.62" filter="url(#b07)"/>
<circle cx="68.2" cy="449.7" r="3" fill="#781840" opacity="0.62" filter="url(#b07)"/>
<circle cx="77.4" cy="447.6" r="3" fill="#781840" opacity="0.62" filter="url(#b07)"/>
<circle cx="88.2" cy="447.0" r="3" fill="#781840" opacity="0.62" filter="url(#b07)"/>
<circle cx="101.4" cy="448.5" r="3" fill="#781840" opacity="0.62" filter="url(#b07)"/>
<circle cx="103.6" cy="455.9" r="3" fill="#781840" opacity="0.62" filter="url(#b07)"/>
<circle cx="131.3" cy="452.2" r="3" fill="#781840" opacity="0.62" filter="url(#b07)"/>
<circle cx="122.0" cy="458.3" r="3" fill="#781840" opacity="0.62" filter="url(#b07)"/>
<circle cx="88.2" cy="456.8" r="3" fill="#781840" opacity="0.62" filter="url(#b07)"/>
<circle cx="68.8" cy="460.8" r="3" fill="#781840" opacity="0.62" filter="url(#b07)"/>
<circle cx="33.4" cy="466.0" r="3" fill="#781840" opacity="0.62" filter="url(#b07)"/>
<circle cx="50.3" cy="466.0" r="3" fill="#781840" opacity="0.62" filter="url(#b07)"/>
<circle cx="26.7" cy="476.8" r="3" fill="#781840" opacity="0.62" filter="url(#b07)"/>
<circle cx="33.7" cy="487.0" r="3" fill="#781840" opacity="0.62" filter="url(#b07)"/>
<circle cx="87.6" cy="484.5" r="3" fill="#781840" opacity="0.62" filter="url(#b07)"/>
<circle cx="132.8" cy="494.6" r="3" fill="#781840" opacity="0.62" filter="url(#b07)"/>
<circle cx="47.3" cy="501.4" r="3" fill="#781840" opacity="0.62" filter="url(#b07)"/>
<circle cx="66.7" cy="499.3" r="3" fill="#781840" opacity="0.62" filter="url(#b07)"/>
<circle cx="95.9" cy="496.8" r="3" fill="#781840" opacity="0.62" filter="url(#b07)"/>
<circle cx="75.9" cy="506.0" r="3" fill="#781840" opacity="0.62" filter="url(#b07)"/>
<circle cx="85.1" cy="509.1" r="3" fill="#781840" opacity="0.62" filter="url(#b07)"/>
<circle cx="92.8" cy="506.0" r="3" fill="#781840" opacity="0.62" filter="url(#b07)"/>
<circle cx="62.0" cy="510.6" r="3" fill="#781840" opacity="0.62" filter="url(#b07)"/>
<circle cx="51.3" cy="514.3" r="3" fill="#781840" opacity="0.62" filter="url(#b07)"/>
<circle cx="139.0" cy="512.2" r="3" fill="#781840" opacity="0.62" filter="url(#b07)"/>
<circle cx="111.9" cy="517.4" r="3" fill="#781840" opacity="0.62" filter="url(#b07)"/>
<circle cx="83.0" cy="523.9" r="3" fill="#781840" opacity="0.62" filter="url(#b07)"/>
<circle cx="66.7" cy="529.7" r="3" fill="#781840" opacity="0.62" filter="url(#b07)"/>
<circle cx="125.1" cy="529.7" r="3" fill="#781840" opacity="0.62" filter="url(#b07)"/>
<circle cx="60.5" cy="543.0" r="3" fill="#781840" opacity="0.62" filter="url(#b07)"/>
<circle cx="85.1" cy="543.0" r="3" fill="#781840" opacity="0.62" filter="url(#b07)"/>
<circle cx="47.7" cy="447.3" r="1.7" fill="#f0c8e0" opacity="0.7"/>
<circle cx="47.7" cy="447.3" r="1.1" fill="#fff"/>
<circle cx="67.7" cy="447.9" r="1.7" fill="#f0c8e0" opacity="0.7"/>
<circle cx="67.7" cy="447.9" r="1.1" fill="#fff"/>
<circle cx="76.9" cy="445.8" r="1.7" fill="#f0c8e0" opacity="0.7"/>
<circle cx="76.9" cy="445.8" r="1.1" fill="#fff"/>
<circle cx="87.7" cy="445.2" r="1.7" fill="#f0c8e0" opacity="0.7"/>
<circle cx="87.7" cy="445.2" r="1.1" fill="#fff"/>
<circle cx="100.9" cy="446.7" r="1.7" fill="#f0c8e0" opacity="0.7"/>
<circle cx="100.9" cy="446.7" r="1.1" fill="#fff"/>
<circle cx="103.1" cy="454.1" r="1.7" fill="#f0c8e0" opacity="0.7"/>
<circle cx="103.1" cy="454.1" r="1.1" fill="#fff"/>
<circle cx="130.8" cy="450.4" r="1.7" fill="#f0c8e0" opacity="0.7"/>
<circle cx="130.8" cy="450.4" r="1.1" fill="#fff"/>
<circle cx="121.5" cy="456.5" r="1.7" fill="#f0c8e0" opacity="0.7"/>
<circle cx="121.5" cy="456.5" r="1.1" fill="#fff"/>
<circle cx="87.7" cy="455.0" r="1.7" fill="#f0c8e0" opacity="0.7"/>
<circle cx="87.7" cy="455.0" r="1.1" fill="#fff"/>
<circle cx="68.3" cy="459.0" r="1.7" fill="#f0c8e0" opacity="0.7"/>
<circle cx="68.3" cy="459.0" r="1.1" fill="#fff"/>
<circle cx="32.9" cy="464.2" r="1.7" fill="#f0c8e0" opacity="0.7"/>
<circle cx="32.9" cy="464.2" r="1.1" fill="#fff"/>
<circle cx="49.8" cy="464.2" r="1.7" fill="#f0c8e0" opacity="0.7"/>
<circle cx="49.8" cy="464.2" r="1.1" fill="#fff"/>
<circle cx="26.2" cy="475.0" r="1.7" fill="#f0c8e0" opacity="0.7"/>
<circle cx="26.2" cy="475.0" r="1.1" fill="#fff"/>
<circle cx="33.2" cy="485.2" r="1.7" fill="#f0c8e0" opacity="0.7"/>
<circle cx="33.2" cy="485.2" r="1.1" fill="#fff"/>
<circle cx="87.1" cy="482.7" r="1.7" fill="#f0c8e0" opacity="0.7"/>
<circle cx="87.1" cy="482.7" r="1.1" fill="#fff"/>
<circle cx="132.3" cy="492.8" r="1.7" fill="#f0c8e0" opacity="0.7"/>
<circle cx="132.3" cy="492.8" r="1.1" fill="#fff"/>
<circle cx="46.8" cy="499.6" r="1.7" fill="#f0c8e0" opacity="0.7"/>
<circle cx="46.8" cy="499.6" r="1.1" fill="#fff"/>
<circle cx="66.2" cy="497.5" r="1.7" fill="#f0c8e0" opacity="0.7"/>
<circle cx="66.2" cy="497.5" r="1.1" fill="#fff"/>
<circle cx="95.4" cy="495.0" r="1.7" fill="#f0c8e0" opacity="0.7"/>
<circle cx="95.4" cy="495.0" r="1.1" fill="#fff"/>
<circle cx="75.4" cy="504.2" r="1.7" fill="#f0c8e0" opacity="0.7"/>
<circle cx="75.4" cy="504.2" r="1.1" fill="#fff"/>
<circle cx="84.6" cy="507.3" r="1.7" fill="#f0c8e0" opacity="0.7"/>
<circle cx="84.6" cy="507.3" r="1.1" fill="#fff"/>
<circle cx="92.3" cy="504.2" r="1.7" fill="#f0c8e0" opacity="0.7"/>
<circle cx="92.3" cy="504.2" r="1.1" fill="#fff"/>
<circle cx="61.5" cy="508.8" r="1.7" fill="#f0c8e0" opacity="0.7"/>
<circle cx="61.5" cy="508.8" r="1.1" fill="#fff"/>
<circle cx="50.8" cy="512.5" r="1.7" fill="#f0c8e0" opacity="0.7"/>
<circle cx="50.8" cy="512.5" r="1.1" fill="#fff"/>
<circle cx="138.5" cy="510.4" r="1.7" fill="#f0c8e0" opacity="0.7"/>
<circle cx="138.5" cy="510.4" r="1.1" fill="#fff"/>
<circle cx="111.4" cy="515.6" r="1.7" fill="#f0c8e0" opacity="0.7"/>
<circle cx="111.4" cy="515.6" r="1.1" fill="#fff"/>
<circle cx="82.5" cy="522.1" r="1.7" fill="#f0c8e0" opacity="0.7"/>
<circle cx="82.5" cy="522.1" r="1.1" fill="#fff"/>
<circle cx="66.2" cy="527.9" r="1.7" fill="#f0c8e0" opacity="0.7"/>
<circle cx="66.2" cy="527.9" r="1.1" fill="#fff"/>
<circle cx="124.6" cy="527.9" r="1.7" fill="#f0c8e0" opacity="0.7"/>
<circle cx="124.6" cy="527.9" r="1.1" fill="#fff"/>
<circle cx="60.0" cy="541.2" r="1.7" fill="#f0c8e0" opacity="0.7"/>
<circle cx="60.0" cy="541.2" r="1.1" fill="#fff"/>
<circle cx="84.6" cy="541.2" r="1.7" fill="#f0c8e0" opacity="0.7"/>
<circle cx="84.6" cy="541.2" r="1.1" fill="#fff"/>
</g>
<rect x="21.50" y="337.50" width="128.00" height="208.00" fill="none" stroke="#111" stroke-width="1.4" />
<line x1="21.50" y1="442.00" x2="149.50" y2="442.00" stroke="#111" stroke-width="1.8" />
<text x="24.00" y="435.00" font-size="9.2" text-anchor="start" font-weight="bold" fill="#000" >Vehicle</text>
<line x1="109.00" y1="437.70" x2="144.60" y2="437.70" stroke="#000" stroke-width="3" />
<text x="26.00" y="539.60" font-size="9.2" text-anchor="start" font-weight="bold" fill="#000" >L-4F</text>
<line x1="109.00" y1="541.00" x2="144.60" y2="541.00" stroke="#000" stroke-width="2.6" />
<line x1="186.20" y1="372.50" x2="186.20" y2="487.50" stroke="#111" stroke-width="1" />
<line x1="186.20" y1="487.00" x2="251.50" y2="487.00" stroke="#111" stroke-width="1" />
<line x1="183.70" y1="487.00" x2="186.20" y2="487.00" stroke="#111" stroke-width="1" />
<text x="182.30" y="490.00" font-size="8.6" text-anchor="end"  fill="#111" >0</text>
<line x1="183.70" y1="467.96" x2="186.20" y2="467.96" stroke="#111" stroke-width="1" />
<text x="182.30" y="470.96" font-size="8.6" text-anchor="end"  fill="#111" >5</text>
<line x1="183.70" y1="448.93" x2="186.20" y2="448.93" stroke="#111" stroke-width="1" />
<text x="182.30" y="451.93" font-size="8.6" text-anchor="end"  fill="#111" >10</text>
<line x1="183.70" y1="429.89" x2="186.20" y2="429.89" stroke="#111" stroke-width="1" />
<text x="182.30" y="432.89" font-size="8.6" text-anchor="end"  fill="#111" >15</text>
<line x1="183.70" y1="410.86" x2="186.20" y2="410.86" stroke="#111" stroke-width="1" />
<text x="182.30" y="413.86" font-size="8.6" text-anchor="end"  fill="#111" >20</text>
<line x1="183.70" y1="391.82" x2="186.20" y2="391.82" stroke="#111" stroke-width="1" />
<text x="182.30" y="394.82" font-size="8.6" text-anchor="end"  fill="#111" >25</text>
<line x1="183.70" y1="372.79" x2="186.20" y2="372.79" stroke="#111" stroke-width="1" />
<text x="182.30" y="375.79" font-size="8.6" text-anchor="end"  fill="#111" >30</text>
<line x1="219.00" y1="487.00" x2="219.00" y2="489.50" stroke="#111" stroke-width="1" />
<line x1="251.50" y1="487.00" x2="251.50" y2="489.50" stroke="#111" stroke-width="1" />
<rect x="192.20" y="444.20" width="22.00" height="42.80" fill="#fff" stroke="#111" stroke-width="1" />
<line x1="203.20" y1="428.50" x2="203.20" y2="444.20" stroke="#222" stroke-width="1" />
<line x1="200.20" y1="428.50" x2="206.20" y2="428.50" stroke="#222" stroke-width="1" />
<rect x="224.30" y="386.50" width="21.50" height="100.50" fill="#000" stroke="#000" stroke-width="1" />
<line x1="235.00" y1="379.00" x2="235.00" y2="386.50" stroke="#222" stroke-width="1" />
<line x1="232.00" y1="379.00" x2="238.00" y2="379.00" stroke="#222" stroke-width="1" />
<text x="235.40" y="373.00" font-size="10" text-anchor="middle"  fill="#111" >*</text>
<text x="203.00" y="500.00" font-size="8.4" text-anchor="middle"  fill="#111" >Vehicle</text>
<text x="234.50" y="500.00" font-size="8.4" text-anchor="middle"  fill="#111" >L-4F</text>
<text transform="translate(165.00,431.50) rotate(-90)" font-size="8.6" text-anchor="middle" fill="#111">TUNEL+ cells</text>
<text x="257.50" y="350.50" font-size="16" text-anchor="start" font-weight="bold" fill="#000" >E</text>
<rect x="272.00" y="340.00" width="136.50" height="102.00" fill="#a8988f" stroke="none" stroke-width="1" filter="url(#nE1)"/>
<g clip-path="url(#cE1)">
<ellipse cx="350" cy="365" rx="60" ry="35" fill="#7a5238" opacity="0.13" filter="url(#b3)"/>
<ellipse cx="295" cy="420" rx="35" ry="25" fill="#b4acc4" opacity="0.25" filter="url(#b3)"/>
<path d="M390,340 L409,340 L409,398 L400,366 Z" fill="#5a3a28" opacity="0.5" filter="url(#b1)"/>
<path d="M375,340 L388,340 L399,362 L409,396 L409,408 L402,386 L393,366 L382,350Z" fill="#d4ced4" opacity="0.7" filter="url(#b07)"/>
<path d="M290,361 L286.5,372 L285.5,386 L289,390 L291,376 L293.5,363Z" fill="#cfc8d0" opacity="0.75" filter="url(#b07)"/>
<path d="M274,386 L284,382.5 L285,386 L276,390Z" fill="#d0ccd4" opacity="0.55" filter="url(#b07)"/>
<path d="M304,385 L318,390 L317,392 L303,388Z" fill="#c8c2ca" opacity="0.4" filter="url(#b07)"/>
<path d="M312,402 L324,407 L323,409 L311,405Z" fill="#c8c2ca" opacity="0.4" filter="url(#b07)"/>
</g>
<rect x="272.00" y="443.00" width="136.50" height="103.50" fill="#aaa6b4" stroke="none" stroke-width="1" filter="url(#nE2)"/>
<g clip-path="url(#cE2)">
<ellipse cx="284" cy="492" rx="14" ry="48" fill="#c8c6d2" opacity="0.4" filter="url(#b3)"/>
<path d="M305,454 C297,456 290,464 289.5,474 C289,484 292,492 298,497 C300,504 299,511 294,516 C288,521 281,527 275,531 L275,537 C284,533 293,527 300,519 C304,512 305,503 302,496 C297,489 295,480 297,472 C299,466 304,462 309,460Z" fill="#e2e1e8" opacity="0.85" filter="url(#b07)"/>
<path d="M298,459 C303,456 309,458 308,465 C306,471 300,472 297,468 C299,465 299,462 298,459Z" fill="#5f58a0" opacity="0.8" filter="url(#b07)"/>
<path d="M303,470 C307,474 308,484 304,488 C301,482 301,475 303,470Z" fill="#7a74a8" opacity="0.6" filter="url(#b07)"/>
<path d="M273,511 C278,512 282,518 281,524 L273,528Z" fill="#6a64a0" opacity="0.7" filter="url(#b07)"/>
<path d="M320,448 L336,450 L335,464 L322,458Z" fill="#d0cedA" opacity="0.5" filter="url(#b07)"/>
<path d="M338,445 L341,446 L341,460 L347,479 L348,507 L345,508 L343,482 L337,462Z" fill="#d8d6e0" opacity="0.65" filter="url(#b07)"/>
<path d="M383,452 L388,450 L390,461 L386,463Z" fill="#d0cedA" opacity="0.55" filter="url(#b07)"/>
<path d="M394,458 L403,466 L402,471 L393,463Z" fill="#d0cedA" opacity="0.45" filter="url(#b07)"/>
<path d="M383,505 C388,507 388,514 383,517" fill="none" stroke="#ccc9d8" stroke-width="1.4" opacity="0.6" filter="url(#b07)"/>
</g>
<rect x="272.00" y="340.00" width="136.50" height="206.00" fill="none" stroke="#111" stroke-width="1.4" />
<line x1="272.00" y1="443.00" x2="408.50" y2="443.00" stroke="#111" stroke-width="3" />
<text x="274.50" y="436.50" font-size="10.2" text-anchor="start" font-weight="bold" fill="#000" >Vehicle</text>
<line x1="361.50" y1="434.20" x2="392.50" y2="434.20" stroke="#000" stroke-width="2" />
<text x="281.00" y="539.60" font-size="9.8" text-anchor="start" font-weight="bold" fill="#000" >L-4F</text>
<line x1="361.50" y1="539.80" x2="392.50" y2="539.80" stroke="#000" stroke-width="1.5" />
<text x="377.00" y="537.80" font-size="2.6" text-anchor="middle"  fill="#111" >500 µm</text>
<text x="377.00" y="432.20" font-size="2.6" text-anchor="middle"  fill="#111" >500 µm</text>
<line x1="448.80" y1="374.50" x2="448.80" y2="489.70" stroke="#111" stroke-width="1" />
<line x1="448.80" y1="489.20" x2="515.60" y2="489.20" stroke="#111" stroke-width="1" />
<line x1="446.30" y1="489.20" x2="448.80" y2="489.20" stroke="#111" stroke-width="1" />
<text x="443.60" y="492.20" font-size="8.4" text-anchor="end"  fill="#111" >160</text>
<line x1="446.30" y1="466.33" x2="448.80" y2="466.33" stroke="#111" stroke-width="1" />
<text x="443.60" y="469.33" font-size="8.4" text-anchor="end"  fill="#111" >165</text>
<line x1="446.30" y1="443.46" x2="448.80" y2="443.46" stroke="#111" stroke-width="1" />
<text x="443.60" y="446.46" font-size="8.4" text-anchor="end"  fill="#111" >170</text>
<line x1="446.30" y1="420.59" x2="448.80" y2="420.59" stroke="#111" stroke-width="1" />
<text x="443.60" y="423.59" font-size="8.4" text-anchor="end"  fill="#111" >175</text>
<line x1="446.30" y1="397.72" x2="448.80" y2="397.72" stroke="#111" stroke-width="1" />
<text x="443.60" y="400.72" font-size="8.4" text-anchor="end"  fill="#111" >180</text>
<line x1="446.30" y1="374.85" x2="448.80" y2="374.85" stroke="#111" stroke-width="1" />
<text x="443.60" y="377.85" font-size="8.4" text-anchor="end"  fill="#111" >185</text>
<line x1="482.30" y1="489.20" x2="482.30" y2="491.70" stroke="#111" stroke-width="1" />
<line x1="515.60" y1="489.20" x2="515.60" y2="491.70" stroke="#111" stroke-width="1" />
<rect x="454.80" y="398.10" width="22.00" height="91.10" fill="#fff" stroke="#111" stroke-width="1" />
<line x1="465.80" y1="381.10" x2="465.80" y2="398.10" stroke="#222" stroke-width="1" />
<line x1="462.80" y1="381.10" x2="468.80" y2="381.10" stroke="#222" stroke-width="1" />
<rect x="487.90" y="442.40" width="22.00" height="46.80" fill="#000" stroke="#000" stroke-width="1" />
<line x1="499.00" y1="435.30" x2="499.00" y2="442.40" stroke="#222" stroke-width="1" />
<line x1="496.00" y1="435.30" x2="502.00" y2="435.30" stroke="#222" stroke-width="1" />
<text x="500.00" y="429.50" font-size="10" text-anchor="middle"  fill="#111" >*</text>
<text x="465.80" y="502.00" font-size="8.4" text-anchor="middle"  fill="#111" >vehicle</text>
<text x="499.00" y="502.00" font-size="8.4" text-anchor="middle"  fill="#111" >L-4F</text>
<text transform="translate(423.80,429.50) rotate(-90)" font-size="8.85" text-anchor="middle" fill="#111">Ki67 (Average intensity)</text>
<text x="2.00" y="565.00" font-size="16" text-anchor="start" font-weight="bold" fill="#000" >F</text>
<line x1="39.00" y1="576.00" x2="39.00" y2="717.20" stroke="#111" stroke-width="1" />
<line x1="36.50" y1="716.80" x2="39.00" y2="716.80" stroke="#111" stroke-width="1" />
<text x="34.60" y="719.70" font-size="8" text-anchor="end"  fill="#111" >-50</text>
<line x1="36.50" y1="699.24" x2="39.00" y2="699.24" stroke="#111" stroke-width="1" />
<text x="34.60" y="702.14" font-size="8" text-anchor="end"  fill="#111" >-40</text>
<line x1="36.50" y1="681.68" x2="39.00" y2="681.68" stroke="#111" stroke-width="1" />
<text x="34.60" y="684.58" font-size="8" text-anchor="end"  fill="#111" >-30</text>
<line x1="36.50" y1="664.12" x2="39.00" y2="664.12" stroke="#111" stroke-width="1" />
<text x="34.60" y="667.02" font-size="8" text-anchor="end"  fill="#111" >-20</text>
<line x1="36.50" y1="646.56" x2="39.00" y2="646.56" stroke="#111" stroke-width="1" />
<text x="34.60" y="649.46" font-size="8" text-anchor="end"  fill="#111" >-10</text>
<line x1="36.50" y1="629.00" x2="39.00" y2="629.00" stroke="#111" stroke-width="1" />
<text x="34.60" y="631.90" font-size="8" text-anchor="end"  fill="#111" >0</text>
<line x1="36.50" y1="611.44" x2="39.00" y2="611.44" stroke="#111" stroke-width="1" />
<text x="34.60" y="614.34" font-size="8" text-anchor="end"  fill="#111" >10</text>
<line x1="36.50" y1="593.88" x2="39.00" y2="593.88" stroke="#111" stroke-width="1" />
<text x="34.60" y="596.78" font-size="8" text-anchor="end"  fill="#111" >20</text>
<line x1="36.50" y1="576.32" x2="39.00" y2="576.32" stroke="#111" stroke-width="1" />
<text x="34.60" y="579.22" font-size="8" text-anchor="end"  fill="#111" >30</text>
<rect x="43.00" y="629.00" width="33.70" height="58.30" fill="#fff" stroke="#222" stroke-width="1" />
<rect x="84.30" y="623.20" width="33.40" height="5.80" fill="#000" stroke="#000" stroke-width="1" />
<line x1="39.00" y1="629.00" x2="121.70" y2="629.00" stroke="#111" stroke-width="1.2" />
<line x1="80.50" y1="629.00" x2="80.50" y2="631.50" stroke="#111" stroke-width="1" />
<line x1="121.70" y1="629.00" x2="121.70" y2="631.50" stroke="#111" stroke-width="1" />
<line x1="59.80" y1="669.80" x2="59.80" y2="705.40" stroke="#3a3a3a" stroke-width="1" />
<line x1="56.80" y1="669.80" x2="62.80" y2="669.80" stroke="#3a3a3a" stroke-width="1" />
<line x1="56.80" y1="705.40" x2="62.80" y2="705.40" stroke="#3a3a3a" stroke-width="1" />
<line x1="101.00" y1="595.80" x2="101.00" y2="651.50" stroke="#3a3a3a" stroke-width="1" />
<line x1="98.00" y1="595.80" x2="104.00" y2="595.80" stroke="#3a3a3a" stroke-width="1" />
<line x1="98.00" y1="651.50" x2="104.00" y2="651.50" stroke="#3a3a3a" stroke-width="1" />
<text x="101.00" y="589.30" font-size="10" text-anchor="middle" font-weight="bold" fill="#111" >#</text>
<text x="59.80" y="730.00" font-size="8.6" text-anchor="middle"  fill="#111" >WT</text>
<text x="101.80" y="730.00" font-size="8.6" text-anchor="middle"  fill="#111" >KO</text>
<text transform="translate(15.00,640.00) rotate(-90)" font-size="8.4" text-anchor="middle" fill="#111">% change in IgG2b with L-4F</text>
<text x="135.50" y="565.50" font-size="16" text-anchor="start" font-weight="bold" fill="#000" >G</text>
<line x1="158.80" y1="567.50" x2="158.80" y2="709.00" stroke="#000" stroke-width="1.9" />
<line x1="155.80" y1="706.50" x2="316.00" y2="706.50" stroke="#000" stroke-width="1.9" />
<line x1="155.80" y1="646.50" x2="158.80" y2="646.50" stroke="#000" stroke-width="1.2" />
<line x1="155.80" y1="586.50" x2="158.80" y2="586.50" stroke="#000" stroke-width="1.2" />
<line x1="158.80" y1="706.50" x2="158.80" y2="709.50" stroke="#000" stroke-width="1.2" />
<line x1="203.60" y1="706.50" x2="203.60" y2="709.50" stroke="#000" stroke-width="1.2" />
<line x1="248.40" y1="706.50" x2="248.40" y2="709.50" stroke="#000" stroke-width="1.2" />
<line x1="293.20" y1="706.50" x2="293.20" y2="709.50" stroke="#000" stroke-width="1.2" />
<text x="154.30" y="590.00" font-size="8.5" text-anchor="end"  fill="#111" >100</text>
<text x="154.30" y="649.50" font-size="8.5" text-anchor="end"  fill="#111" >50</text>
<text x="159.00" y="730.00" font-size="8.2" text-anchor="middle"  fill="#111" >0</text>
<text x="203.60" y="729.00" font-size="8.2" text-anchor="middle"  fill="#111" >10</text>
<text x="248.40" y="729.00" font-size="8.2" text-anchor="middle"  fill="#111" >20</text>
<text x="293.20" y="729.00" font-size="8.2" text-anchor="middle"  fill="#111" >30</text>
<text x="225.80" y="738.50" font-size="8.4" text-anchor="middle"  fill="#111" >Time (days)</text>
<text transform="translate(140.70,648.00) rotate(-90)" font-size="8.4" text-anchor="middle" fill="#111">% survival</text>
<polyline fill="none" stroke="#20209a" stroke-width="2.4" stroke-linejoin="miter" points="158.8,586.5 261.8,586.5 261.8,596.1 266.3,596.1 266.3,614.1 275.3,614.1 275.3,678.9 279.8,678.9 279.8,688.5 284.2,688.5 284.2,706.5"/>
<polyline fill="none" stroke="#a8205c" stroke-width="2.4" stroke-linejoin="miter" points="158.8,586.5 275.3,586.5 275.3,593.7 279.8,593.7 279.8,609.3 284.2,609.3 284.2,641.7 288.7,641.7 288.7,664.5 293.2,664.5 293.2,690.9 302.2,690.9 302.2,706.5"/>
<line x1="181.00" y1="633.50" x2="207.00" y2="633.50" stroke="#20209a" stroke-width="4" stroke-linecap="round"/>
<line x1="194.00" y1="629.20" x2="194.00" y2="633.50" stroke="#20209a" stroke-width="3.2" />
<line x1="181.00" y1="660.80" x2="207.00" y2="660.80" stroke="#a8205c" stroke-width="4" stroke-linecap="round"/>
<line x1="194.00" y1="656.50" x2="194.00" y2="660.80" stroke="#a8205c" stroke-width="3.2" />
<text x="211.50" y="636.50" font-size="8.2" text-anchor="start"  fill="#111" >Vehicle</text>
<text x="211.50" y="663.80" font-size="8.2" text-anchor="start"  fill="#111" >L-4F</text>
<text x="169.20" y="695.40" font-size="8.5" text-anchor="start"  fill="#111" >p &lt; 0.0001</text>
<text x="326.00" y="565.50" font-size="16" text-anchor="start" font-weight="bold" fill="#000" >H</text>
<line x1="358.40" y1="571.50" x2="358.40" y2="707.00" stroke="#111" stroke-width="1.2" />
<line x1="358.40" y1="706.50" x2="511.00" y2="706.50" stroke="#111" stroke-width="1.2" />
<line x1="355.90" y1="706.50" x2="358.40" y2="706.50" stroke="#111" stroke-width="1" />
<text x="352.40" y="709.50" font-size="8.5" text-anchor="end"  fill="#111" >0</text>
<line x1="355.90" y1="689.65" x2="358.40" y2="689.65" stroke="#111" stroke-width="1" />
<text x="352.40" y="692.65" font-size="8.5" text-anchor="end"  fill="#111" >100</text>
<line x1="355.90" y1="672.80" x2="358.40" y2="672.80" stroke="#111" stroke-width="1" />
<text x="352.40" y="675.80" font-size="8.5" text-anchor="end"  fill="#111" >200</text>
<line x1="355.90" y1="655.95" x2="358.40" y2="655.95" stroke="#111" stroke-width="1" />
<text x="352.40" y="658.95" font-size="8.5" text-anchor="end"  fill="#111" >300</text>
<line x1="355.90" y1="639.10" x2="358.40" y2="639.10" stroke="#111" stroke-width="1" />
<text x="352.40" y="642.10" font-size="8.5" text-anchor="end"  fill="#111" >400</text>
<line x1="355.90" y1="622.25" x2="358.40" y2="622.25" stroke="#111" stroke-width="1" />
<text x="352.40" y="625.25" font-size="8.5" text-anchor="end"  fill="#111" >500</text>
<line x1="355.90" y1="605.40" x2="358.40" y2="605.40" stroke="#111" stroke-width="1" />
<text x="352.40" y="608.40" font-size="8.5" text-anchor="end"  fill="#111" >600</text>
<line x1="355.90" y1="588.55" x2="358.40" y2="588.55" stroke="#111" stroke-width="1" />
<text x="352.40" y="591.55" font-size="8.5" text-anchor="end"  fill="#111" >700</text>
<line x1="355.90" y1="571.70" x2="358.40" y2="571.70" stroke="#111" stroke-width="1" />
<text x="352.40" y="574.70" font-size="8.5" text-anchor="end"  fill="#111" >800</text>
<line x1="389.10" y1="706.50" x2="389.10" y2="709.00" stroke="#111" stroke-width="1" />
<text x="389.10" y="719.50" font-size="8.2" text-anchor="middle"  fill="#111" >14</text>
<line x1="419.50" y1="706.50" x2="419.50" y2="709.00" stroke="#111" stroke-width="1" />
<text x="419.50" y="719.50" font-size="8.2" text-anchor="middle"  fill="#111" >16</text>
<line x1="449.90" y1="706.50" x2="449.90" y2="709.00" stroke="#111" stroke-width="1" />
<text x="449.90" y="719.50" font-size="8.2" text-anchor="middle"  fill="#111" >18</text>
<line x1="480.30" y1="706.50" x2="480.30" y2="709.00" stroke="#111" stroke-width="1" />
<text x="480.30" y="719.50" font-size="8.2" text-anchor="middle"  fill="#111" >20</text>
<line x1="510.70" y1="706.50" x2="510.70" y2="709.00" stroke="#111" stroke-width="1" />
<text x="510.70" y="719.50" font-size="8.2" text-anchor="middle"  fill="#111" >22</text>
<line x1="359.80" y1="711.50" x2="363.30" y2="701.50" stroke="#000" stroke-width="1.6" />
<line x1="363.60" y1="711.50" x2="367.10" y2="701.50" stroke="#000" stroke-width="1.6" />
<text x="438.60" y="729.50" font-size="8.7" text-anchor="middle"  fill="#111" >Time (days)</text>
<text transform="translate(330.30,650.50) rotate(-90)" font-size="8.2" text-anchor="middle" fill="#111">Tumor Size (mm³)</text>
<polyline fill="none" stroke="#1c2ee4" stroke-width="2.6" stroke-dasharray="7,4" points="373.9,691.8 389.1,680.0 404.3,674.1 419.5,672.1 434.7,659.7 465.1,651.2 480.3,611.1 495.5,603.2"/>
<polyline fill="none" stroke="#b4160c" stroke-width="2.6" points="373.9,700.6 389.1,693.9 404.3,691.2 419.5,686.8 434.7,679.4 465.1,678.9 480.3,667.4 495.5,658.5"/>
<line x1="373.90" y1="685.94" x2="373.90" y2="697.74" stroke="#3a3a3a" stroke-width="1" />
<line x1="371.30" y1="685.94" x2="376.50" y2="685.94" stroke="#3a3a3a" stroke-width="1" />
<line x1="371.30" y1="697.74" x2="376.50" y2="697.74" stroke="#3a3a3a" stroke-width="1" />
<path d="M373.90,686.84 L378.90,691.84 L373.90,696.84 L368.90,691.84Z" fill="#2238ea" stroke="#181890" stroke-width="0.8"/>
<line x1="389.10" y1="671.62" x2="389.10" y2="688.47" stroke="#3a3a3a" stroke-width="1" />
<line x1="386.50" y1="671.62" x2="391.70" y2="671.62" stroke="#3a3a3a" stroke-width="1" />
<line x1="386.50" y1="688.47" x2="391.70" y2="688.47" stroke="#3a3a3a" stroke-width="1" />
<path d="M389.10,675.05 L394.10,680.05 L389.10,685.05 L384.10,680.05Z" fill="#2238ea" stroke="#181890" stroke-width="0.8"/>
<line x1="404.30" y1="665.39" x2="404.30" y2="682.91" stroke="#3a3a3a" stroke-width="1" />
<line x1="401.70" y1="665.39" x2="406.90" y2="665.39" stroke="#3a3a3a" stroke-width="1" />
<line x1="401.70" y1="682.91" x2="406.90" y2="682.91" stroke="#3a3a3a" stroke-width="1" />
<path d="M404.30,669.15 L409.30,674.15 L404.30,679.15 L399.30,674.15Z" fill="#2238ea" stroke="#181890" stroke-width="0.8"/>
<line x1="419.50" y1="663.36" x2="419.50" y2="680.89" stroke="#3a3a3a" stroke-width="1" />
<line x1="416.90" y1="663.36" x2="422.10" y2="663.36" stroke="#3a3a3a" stroke-width="1" />
<line x1="416.90" y1="680.89" x2="422.10" y2="680.89" stroke="#3a3a3a" stroke-width="1" />
<path d="M419.50,667.13 L424.50,672.13 L419.50,677.13 L414.50,672.13Z" fill="#2238ea" stroke="#181890" stroke-width="0.8"/>
<line x1="434.70" y1="650.39" x2="434.70" y2="668.92" stroke="#3a3a3a" stroke-width="1" />
<line x1="432.10" y1="650.39" x2="437.30" y2="650.39" stroke="#3a3a3a" stroke-width="1" />
<line x1="432.10" y1="668.92" x2="437.30" y2="668.92" stroke="#3a3a3a" stroke-width="1" />
<path d="M434.70,654.66 L439.70,659.66 L434.70,664.66 L429.70,659.66Z" fill="#2238ea" stroke="#181890" stroke-width="0.8"/>
<line x1="465.10" y1="634.38" x2="465.10" y2="668.08" stroke="#3a3a3a" stroke-width="1" />
<line x1="462.50" y1="634.38" x2="467.70" y2="634.38" stroke="#3a3a3a" stroke-width="1" />
<line x1="462.50" y1="668.08" x2="467.70" y2="668.08" stroke="#3a3a3a" stroke-width="1" />
<path d="M465.10,646.23 L470.10,651.23 L465.10,656.23 L460.10,651.23Z" fill="#2238ea" stroke="#181890" stroke-width="0.8"/>
<line x1="480.30" y1="589.22" x2="480.30" y2="633.03" stroke="#3a3a3a" stroke-width="1" />
<line x1="477.70" y1="589.22" x2="482.90" y2="589.22" stroke="#3a3a3a" stroke-width="1" />
<line x1="477.70" y1="633.03" x2="482.90" y2="633.03" stroke="#3a3a3a" stroke-width="1" />
<path d="M480.30,606.13 L485.30,611.13 L480.30,616.13 L475.30,611.13Z" fill="#2238ea" stroke="#181890" stroke-width="0.8"/>
<line x1="495.50" y1="582.48" x2="495.50" y2="623.93" stroke="#3a3a3a" stroke-width="1" />
<line x1="492.90" y1="582.48" x2="498.10" y2="582.48" stroke="#3a3a3a" stroke-width="1" />
<line x1="492.90" y1="623.93" x2="498.10" y2="623.93" stroke="#3a3a3a" stroke-width="1" />
<path d="M495.50,598.21 L500.50,603.21 L495.50,608.21 L490.50,603.21Z" fill="#2238ea" stroke="#181890" stroke-width="0.8"/>
<line x1="373.90" y1="696.39" x2="373.90" y2="704.82" stroke="#3a3a3a" stroke-width="1" />
<line x1="371.30" y1="696.39" x2="376.50" y2="696.39" stroke="#3a3a3a" stroke-width="1" />
<line x1="371.30" y1="704.82" x2="376.50" y2="704.82" stroke="#3a3a3a" stroke-width="1" />
<rect x="369.70" y="696.40" width="8.40" height="8.40" fill="#a81c12" stroke="#5a0f0a" stroke-width="1" />
<line x1="389.10" y1="688.81" x2="389.10" y2="698.92" stroke="#3a3a3a" stroke-width="1" />
<line x1="386.50" y1="688.81" x2="391.70" y2="688.81" stroke="#3a3a3a" stroke-width="1" />
<line x1="386.50" y1="698.92" x2="391.70" y2="698.92" stroke="#3a3a3a" stroke-width="1" />
<rect x="384.90" y="689.66" width="8.40" height="8.40" fill="#a81c12" stroke="#5a0f0a" stroke-width="1" />
<line x1="404.30" y1="684.43" x2="404.30" y2="697.91" stroke="#3a3a3a" stroke-width="1" />
<line x1="401.70" y1="684.43" x2="406.90" y2="684.43" stroke="#3a3a3a" stroke-width="1" />
<line x1="401.70" y1="697.91" x2="406.90" y2="697.91" stroke="#3a3a3a" stroke-width="1" />
<rect x="400.10" y="686.97" width="8.40" height="8.40" fill="#a81c12" stroke="#5a0f0a" stroke-width="1" />
<line x1="419.50" y1="679.71" x2="419.50" y2="693.86" stroke="#3a3a3a" stroke-width="1" />
<line x1="416.90" y1="679.71" x2="422.10" y2="679.71" stroke="#3a3a3a" stroke-width="1" />
<line x1="416.90" y1="693.86" x2="422.10" y2="693.86" stroke="#3a3a3a" stroke-width="1" />
<rect x="415.30" y="682.59" width="8.40" height="8.40" fill="#a81c12" stroke="#5a0f0a" stroke-width="1" />
<line x1="434.70" y1="670.10" x2="434.70" y2="688.64" stroke="#3a3a3a" stroke-width="1" />
<line x1="432.10" y1="670.10" x2="437.30" y2="670.10" stroke="#3a3a3a" stroke-width="1" />
<line x1="432.10" y1="688.64" x2="437.30" y2="688.64" stroke="#3a3a3a" stroke-width="1" />
<rect x="430.50" y="675.17" width="8.40" height="8.40" fill="#a81c12" stroke="#5a0f0a" stroke-width="1" />
<line x1="465.10" y1="672.97" x2="465.10" y2="684.76" stroke="#3a3a3a" stroke-width="1" />
<line x1="462.50" y1="672.97" x2="467.70" y2="672.97" stroke="#3a3a3a" stroke-width="1" />
<line x1="462.50" y1="684.76" x2="467.70" y2="684.76" stroke="#3a3a3a" stroke-width="1" />
<rect x="460.90" y="674.67" width="8.40" height="8.40" fill="#a81c12" stroke="#5a0f0a" stroke-width="1" />
<line x1="480.30" y1="660.33" x2="480.30" y2="674.49" stroke="#3a3a3a" stroke-width="1" />
<line x1="477.70" y1="660.33" x2="482.90" y2="660.33" stroke="#3a3a3a" stroke-width="1" />
<line x1="477.70" y1="674.49" x2="482.90" y2="674.49" stroke="#3a3a3a" stroke-width="1" />
<rect x="476.10" y="663.21" width="8.40" height="8.40" fill="#a81c12" stroke="#5a0f0a" stroke-width="1" />
<line x1="495.50" y1="648.37" x2="495.50" y2="668.59" stroke="#3a3a3a" stroke-width="1" />
<line x1="492.90" y1="648.37" x2="498.10" y2="648.37" stroke="#3a3a3a" stroke-width="1" />
<line x1="492.90" y1="668.59" x2="498.10" y2="668.59" stroke="#3a3a3a" stroke-width="1" />
<rect x="491.30" y="654.28" width="8.40" height="8.40" fill="#a81c12" stroke="#5a0f0a" stroke-width="1" />
<line x1="366.20" y1="586.80" x2="395.80" y2="586.80" stroke="#1c2ee4" stroke-width="2.4" stroke-dasharray="7,3.5"/>
<path d="M380.60,584.40 L383.00,586.80 L380.60,589.20 L378.20,586.80Z" fill="#1a1a70" stroke="#111" stroke-width="0.8"/>
<text x="397.80" y="590.80" font-size="8.2" text-anchor="start"  fill="#111" >vehicle</text>
<line x1="366.20" y1="609.00" x2="395.80" y2="609.00" stroke="#b4160c" stroke-width="2.4" />
<rect x="379.00" y="607.00" width="4.00" height="4.00" fill="#a3231a" stroke="#300" stroke-width="1" />
<text x="397.80" y="612.30" font-size="8.2" text-anchor="start"  fill="#111" >L-4F</text>
<text x="461.20" y="697.80" font-size="8.7" text-anchor="start"  fill="#111" >p &lt; 0.05</text>
</svg></body></html>
